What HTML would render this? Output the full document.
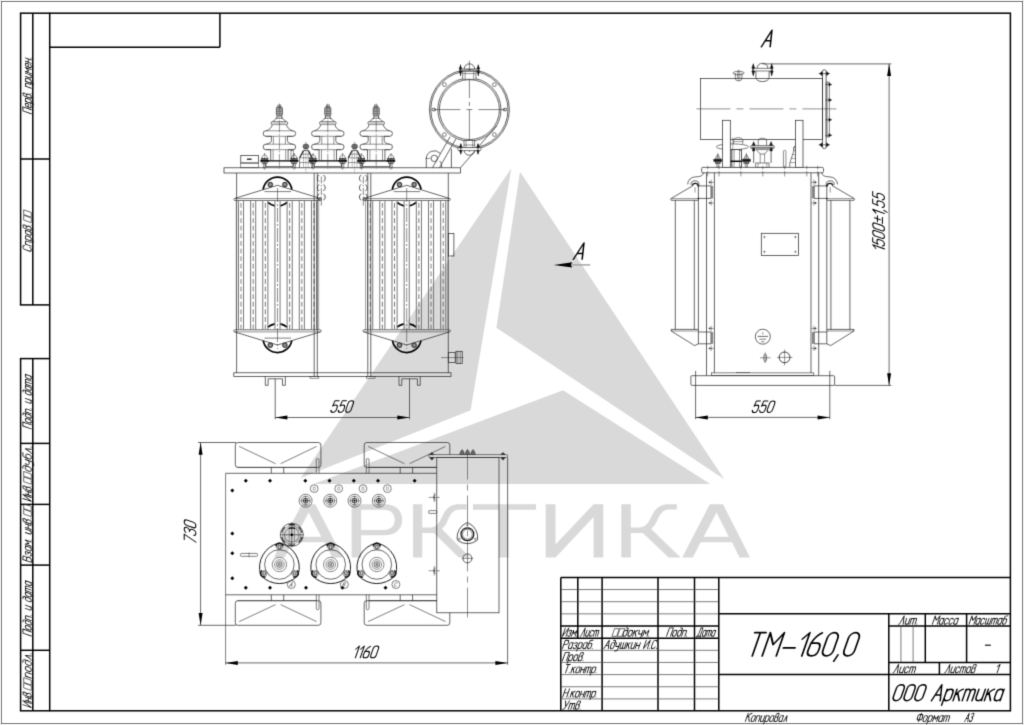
<!DOCTYPE html>
<html><head><meta charset="utf-8"><title>TM-160</title>
<style>
html,body{margin:0;padding:0;background:#ebebeb;}
body{width:1024px;height:725px;overflow:hidden;font-family:"Liberation Sans",sans-serif;}
svg{display:block;font-family:"Liberation Sans",sans-serif;}
</style></head><body>
<svg width="1024" height="725" viewBox="0 0 1024 725">
<defs><filter id="soft" x="0" y="0" width="1024" height="725" filterUnits="userSpaceOnUse" color-interpolation-filters="sRGB"><feConvolveMatrix order="3" kernelMatrix="0 1 0 1 4 1 0 1 0" divisor="8" edgeMode="duplicate" preserveAlpha="true"/></filter></defs>
<g filter="url(#soft)">
<rect x="1.5" y="1.5" width="1021" height="722" stroke="#9c9c9c" stroke-width="1" fill="#fff"/>
<path d="M511.4,168.2 L300.5,478.3 L470.6,410.3 Z" stroke="none" stroke-width="0" fill="#d9d9d9" />
<path d="M520,171.7 L724.3,479.3 L496.4,327.8 Z" stroke="none" stroke-width="0" fill="#d9d9d9" />
<path d="M563,390.3 L710.3,484 L313.5,484 Z" stroke="none" stroke-width="0" fill="#d9d9d9" />
<path d="M273.7,557.4 L301.87,504.3 H315.34 L343,557.4 H332.18 L324.68,542.2 H292.53 L284.52,557.4 Z M308.71,512.6 L321.26,536.8 H295.64 Z" stroke="none" stroke-width="0" fill="#d9d9d9" fill-rule="evenodd"/>
<path d="M351.6,557.4 V504.3 H384 C395.5,504.3 402.2,510.2 402.2,519.8 C402.2,529.4 395.5,535.3 384,535.3 H361.2 V557.4 Z M361.2,509.8 V529.9 H383.5 C390.8,529.9 394.7,526.2 394.7,519.8 C394.7,513.5 390.8,509.8 383.5,509.8 Z" stroke="none" stroke-width="0" fill="#d9d9d9" fill-rule="evenodd"/>
<path d="M413.1,504.3 L422.27,504.3 L422.27,527.4 L430.47,527.4 C436.26,527.4 439.16,523.3 442.05,516.8 C445.43,508.8 450.74,504.3 458.46,504.3 L466.66,504.3 L466.66,509.6 L459.9,509.6 C454.11,509.6 451.22,512.8 448.52,518.8 C446.39,523.8 444.46,526.8 441.86,528.9 L470.42,557.4 L458.84,557.4 L433.85,532.9 L422.27,532.9 L422.27,557.4 L413.1,557.4 Z" stroke="none" stroke-width="0" fill="#d9d9d9" />
<path d="M473,504.3 H536 V509.8 H508.6 V557.4 H498.8 V509.8 H473 Z" stroke="none" stroke-width="0" fill="#d9d9d9" />
<path d="M545.7,504.3 H555.5 V544.5 L593.6,504.3 H603.3 V557.4 H593.6 V517.1 L555.5,557.4 H545.7 Z" stroke="none" stroke-width="0" fill="#d9d9d9" />
<path d="M621.3,504.3 L630.8,504.3 L630.8,527.4 L639.3,527.4 C645.3,527.4 648.3,523.3 651.3,516.8 C654.8,508.8 660.3,504.3 668.3,504.3 L676.8,504.3 L676.8,509.6 L669.8,509.6 C663.8,509.6 660.8,512.8 658,518.8 C655.8,523.8 653.8,526.8 651.1,528.9 L680.7,557.4 L668.7,557.4 L642.8,532.9 L630.8,532.9 L630.8,557.4 L621.3,557.4 Z" stroke="none" stroke-width="0" fill="#d9d9d9" />
<path d="M682.2,557.4 L709.8,504.3 H723 L750.1,557.4 H739.5 L732.15,542.2 H700.65 L692.8,557.4 Z M716.5,512.6 L728.8,536.8 H703.7 Z" stroke="none" stroke-width="0" fill="#d9d9d9" fill-rule="evenodd"/>
<rect x="49.7" y="13.2" width="960.7" height="697.6" stroke="#000" stroke-width="1.5" fill="none"/>
<line x1="49.7" y1="47.2" x2="219.9" y2="47.2" stroke="#000" stroke-width="1.5"/>
<line x1="219.9" y1="13.2" x2="219.9" y2="47.2" stroke="#000" stroke-width="1.5"/>
<line x1="20.6" y1="13.2" x2="20.6" y2="304.9" stroke="#000" stroke-width="1.5"/>
<line x1="32.8" y1="13.2" x2="32.8" y2="304.9" stroke="#000" stroke-width="1.5"/>
<line x1="19.85" y1="13.2" x2="49.7" y2="13.2" stroke="#000" stroke-width="1.5"/>
<line x1="20.6" y1="159" x2="49.7" y2="159" stroke="#000" stroke-width="1.5"/>
<line x1="19.85" y1="304.9" x2="49.7" y2="304.9" stroke="#000" stroke-width="1.5"/>
<line x1="20.6" y1="358.6" x2="20.6" y2="710.8" stroke="#000" stroke-width="1.5"/>
<line x1="32.8" y1="358.6" x2="32.8" y2="710.8" stroke="#000" stroke-width="1.5"/>
<line x1="19.85" y1="358.6" x2="49.7" y2="358.6" stroke="#000" stroke-width="1.5"/>
<line x1="20.6" y1="443.4" x2="49.7" y2="443.4" stroke="#000" stroke-width="1.5"/>
<line x1="20.6" y1="504.4" x2="49.7" y2="504.4" stroke="#000" stroke-width="1.5"/>
<line x1="20.6" y1="565.1" x2="49.7" y2="565.1" stroke="#000" stroke-width="1.5"/>
<line x1="20.6" y1="650.3" x2="49.7" y2="650.3" stroke="#000" stroke-width="1.5"/>
<line x1="19.85" y1="710.8" x2="49.7" y2="710.8" stroke="#000" stroke-width="1.5"/>
<line x1="560.8" y1="577.4" x2="1010.4" y2="577.4" stroke="#000" stroke-width="1.5"/>
<line x1="560.8" y1="577.4" x2="560.8" y2="710.8" stroke="#000" stroke-width="1.5"/>
<line x1="602.1" y1="577.4" x2="602.1" y2="710.8" stroke="#000" stroke-width="1.5"/>
<line x1="658" y1="577.4" x2="658" y2="710.8" stroke="#000" stroke-width="1.5"/>
<line x1="694.5" y1="577.4" x2="694.5" y2="710.8" stroke="#000" stroke-width="1.5"/>
<line x1="718.8" y1="577.4" x2="718.8" y2="710.8" stroke="#000" stroke-width="1.5"/>
<line x1="577.8" y1="577.4" x2="577.8" y2="638.15" stroke="#000" stroke-width="1.5"/>
<line x1="560.8" y1="589.55" x2="718.8" y2="589.55" stroke="#444" stroke-width="0.7"/>
<line x1="560.8" y1="601.7" x2="718.8" y2="601.7" stroke="#444" stroke-width="0.7"/>
<line x1="560.8" y1="613.85" x2="718.8" y2="613.85" stroke="#444" stroke-width="0.7"/>
<line x1="560.8" y1="626" x2="718.8" y2="626" stroke="#000" stroke-width="1.5"/>
<line x1="560.8" y1="638.15" x2="718.8" y2="638.15" stroke="#000" stroke-width="1.5"/>
<line x1="560.8" y1="650.3" x2="718.8" y2="650.3" stroke="#444" stroke-width="0.7"/>
<line x1="560.8" y1="662.45" x2="718.8" y2="662.45" stroke="#444" stroke-width="0.7"/>
<line x1="560.8" y1="674.6" x2="718.8" y2="674.6" stroke="#444" stroke-width="0.7"/>
<line x1="560.8" y1="686.75" x2="718.8" y2="686.75" stroke="#444" stroke-width="0.7"/>
<line x1="560.8" y1="698.9" x2="718.8" y2="698.9" stroke="#444" stroke-width="0.7"/>
<line x1="718.8" y1="613.85" x2="1010.4" y2="613.85" stroke="#000" stroke-width="1.5"/>
<line x1="718.8" y1="674.6" x2="1010.4" y2="674.6" stroke="#000" stroke-width="1.5"/>
<line x1="888.8" y1="613.85" x2="888.8" y2="710.8" stroke="#000" stroke-width="1.5"/>
<line x1="888.8" y1="626" x2="1010.4" y2="626" stroke="#000" stroke-width="1.5"/>
<line x1="888.8" y1="662.45" x2="1010.4" y2="662.45" stroke="#000" stroke-width="1.5"/>
<line x1="925.3" y1="613.85" x2="925.3" y2="662.45" stroke="#000" stroke-width="1.5"/>
<line x1="966.6" y1="613.85" x2="966.6" y2="662.45" stroke="#000" stroke-width="1.5"/>
<line x1="900.95" y1="626" x2="900.95" y2="662.45" stroke="#444" stroke-width="0.7"/>
<line x1="913.1" y1="626" x2="913.1" y2="662.45" stroke="#444" stroke-width="0.7"/>
<line x1="939.4" y1="662.45" x2="939.4" y2="674.6" stroke="#000" stroke-width="1.5"/>
<g transform="translate(746.6,655.9) rotate(0)"><g transform="matrix(1.6571,0,0.5800,-1.6571,0,0)" fill="none" stroke="#000" stroke-width="1.06" stroke-linecap="round" stroke-linejoin="round"><path transform="translate(0,0)" d="M0,14 H6.8 M3.4,14 V0"/><path transform="translate(9.4,0)" d="M0,0 V14 L4.25,6.8 L8.5,14 V0"/><path transform="translate(20.5,0)" d="M0,4.8 H7"/><path transform="translate(30.1,0)" d="M0,10.2 L3.2,14 V0"/><path transform="translate(35.9,0)" d="M4.9,13.9 C2.6,12.6 0.9,10 0.3,7.6 L0,3.2 C0,1.2 1.3,0 3.2,0 C5.1,0 6.4,1.2 6.4,3.2 V4.8 C6.4,6.6 5.3,7.7 3.8,7.7 H0.5"/><path transform="translate(44.9,0)" d="M0,3.2 V10.8 A3.2,3.2 0 0 0 6.4,10.8 V3.2 A3.2,3.2 0 0 0 0,3.2 Z"/><path transform="translate(53.9,0)" d="M1.0,0.6 L-0.2,-3.2"/><path transform="translate(57.7,0)" d="M0,3.2 V10.8 A3.2,3.2 0 0 0 6.4,10.8 V3.2 A3.2,3.2 0 0 0 0,3.2 Z"/></g></g>
<g transform="translate(892,700.7) rotate(0)"><g transform="matrix(1.1429,0,0.4000,-1.1429,0,0)" fill="none" stroke="#000" stroke-width="1.3" stroke-linecap="round" stroke-linejoin="round"><path transform="translate(0,0)" d="M0,3.45 V10.55 A3.45,3.45 0 0 0 6.9,10.55 V3.45 A3.45,3.45 0 0 0 0,3.45 Z"/><path transform="translate(9.5,0)" d="M0,3.45 V10.55 A3.45,3.45 0 0 0 6.9,10.55 V3.45 A3.45,3.45 0 0 0 0,3.45 Z"/><path transform="translate(19,0)" d="M0,3.45 V10.55 A3.45,3.45 0 0 0 6.9,10.55 V3.45 A3.45,3.45 0 0 0 0,3.45 Z"/><path transform="translate(34.5,0)" d="M0,0 L4.2,14 L7.7,0 M1.5,5 H6.45"/><path transform="translate(44.8,0)" d="M0,10 V-4 M0,7 C0,8.9,1.26,10,3,10 C4.74,10,6,8.9,6,7 V3 C6,1.1,4.74,0,3,0 C1.26,0,0,1.1,0,3"/><path transform="translate(53.4,0)" d="M0,10 V0 M5.4,10 C3.15,9.6,1.35,7,0,4.6 M1.8,6.6 L5.4,0"/><path transform="translate(61.4,0)" d="M0,0 V10 M0,7.2 C0,9 0.9,10 2.15,10 C3.4,10 4.3,9 4.3,7.2 V0 M4.3,7.2 C4.3,9 5.2,10 6.45,10 C7.7,10 8.6,9 8.6,7.2 V0"/><path transform="translate(72.6,0)" d="M0,10 V3 C0,1.1,1.17,0,2.8,0 C4.43,0,5.6,1.1,5.6,3 M5.6,10 V0"/><path transform="translate(80.8,0)" d="M0,10 V0 M5.4,10 C3.15,9.6,1.35,7,0,4.6 M1.8,6.6 L5.4,0"/><path transform="translate(88.8,0)" d="M5.8,10 V0 M5.8,3 C5.8,1.1,4.58,0,2.9,0 C1.22,0,0,1.1,0,3 V7 C0,8.9,1.22,10,2.9,10 C4.58,10,5.8,8.9,5.8,7"/></g></g>
<g transform="translate(562.4,636.3) rotate(0)"><g transform="matrix(0.5143,0,0.2100,-0.6000,0,0)" fill="none" stroke="#111" stroke-width="1.58" stroke-linecap="round" stroke-linejoin="round"><path transform="translate(0,0)" d="M0,14 V0 L7,14 V0"/><path transform="translate(9.6,0)" d="M0.2,8.3 C0.7,9.4 1.6,10 2.7,10 C4.2,10 5.2,9 5.2,7.6 C5.2,6.2 4.2,5.4 2.4,5.4 C4.4,5.4 5.4,4.4 5.4,2.8 C5.4,1.1 4.3,0 2.7,0 C1.4,0 0.5,0.7 0,1.9"/><path transform="translate(17.6,0)" d="M0,0 V10 L3.5,4 L7,10 V0"/><path transform="translate(27.2,0)" d="M0.4,0.2 V0.5"/></g></g>
<g transform="translate(580.2,636.3) rotate(0)"><g transform="matrix(0.4886,0,0.2100,-0.6000,0,0)" fill="none" stroke="#111" stroke-width="1.63" stroke-linecap="round" stroke-linejoin="round"><path transform="translate(0,0)" d="M0,0 C0.9,0.1 1.4,0.8 1.7,2.2 L4.4,14 L7.4,0"/><path transform="translate(10,0)" d="M0,10 V3 C0,1.1,1.17,0,2.8,0 C4.43,0,5.6,1.1,5.6,3 M5.6,10 V0"/><path transform="translate(18.2,0)" d="M5.6,7.8 C5.2,9.2 4.3,10 2.9,10 C1.2,10 0,8.9 0,7 V3 C0,1.1 1.2,0 2.9,0 C4.3,0 5.2,0.8 5.6,2.2"/><path transform="translate(26.4,0)" d="M0,0 V10 M0,7.2 C0,9 0.9,10 2.15,10 C3.4,10 4.3,9 4.3,7.2 V0 M4.3,7.2 C4.3,9 5.2,10 6.45,10 C7.7,10 8.6,9 8.6,7.2 V0"/></g></g>
<g transform="translate(612,636.3) rotate(0)"><g transform="matrix(0.5857,0,0.2050,-0.5857,0,0)" fill="none" stroke="#333" stroke-width="1.13" stroke-linecap="round" stroke-linejoin="round"><path transform="translate(0,0)" d="M0.5,0 H8 V13 H0.5 Z M9.8,0 H17.3 V13 H9.8 Z"/></g></g>
<g transform="translate(622.3,636.3) rotate(0)"><g transform="matrix(0.6124,0,0.2100,-0.6000,0,0)" fill="none" stroke="#111" stroke-width="1.45" stroke-linecap="round" stroke-linejoin="round"><path transform="translate(0,0)" d="M5.8,7 C5.8,8.9 4.6,10 2.9,10 C1.2,10 0,8.9 0,7 V3 C0,1.1 1.2,0 2.9,0 C4.6,0 5.8,1.1 5.8,3 V10.4 C5.8,12.7 4.6,14 2.8,14 H1.4"/><path transform="translate(8.4,0)" d="M0,2.9 V7.1 A2.9,2.9 0 0 0 5.8,7.1 V2.9 A2.9,2.9 0 0 0 0,2.9 Z"/><path transform="translate(16.8,0)" d="M0,10 V0 M5.4,10 C3.15,9.6,1.35,7,0,4.6 M1.8,6.6 L5.4,0"/><path transform="translate(24.8,0)" d="M0,10 V6.2 C0,4.4 1.2,3.4 2.9,3.4 C4.6,3.4 5.8,4.4 5.8,6.2 M5.8,10 V-1 C5.8,-2.9 4.6,-4 2.9,-4 H1.5"/><path transform="translate(33.2,0)" d="M0,0 V10 L3.5,4 L7,10 V0"/><path transform="translate(42.8,0)" d="M0.4,0.2 V0.5"/></g></g>
<g transform="translate(666.5,636.3) rotate(0)"><g transform="matrix(0.5702,0,0.2100,-0.6000,0,0)" fill="none" stroke="#111" stroke-width="1.5" stroke-linecap="round" stroke-linejoin="round"><path transform="translate(0,0)" d="M0,0 V14 H7 V0"/><path transform="translate(9.6,0)" d="M0,2.9 V7.1 A2.9,2.9 0 0 0 5.8,7.1 V2.9 A2.9,2.9 0 0 0 0,2.9 Z"/><path transform="translate(18,0)" d="M5.8,7 C5.8,8.9 4.6,10 2.9,10 C1.2,10 0,8.9 0,7 V3 C0,1.1 1.2,0 2.9,0 C4.6,0 5.8,1.1 5.8,3 V10.4 C5.8,12.7 4.6,14 2.8,14 H1.4"/><path transform="translate(26.4,0)" d="M0,0 V10 M0,7 C0,8.9 1.2,10 2.9,10 C4.6,10 5.8,8.9 5.8,7 V0"/><path transform="translate(34.8,0)" d="M0.4,0.2 V0.5"/></g></g>
<g transform="translate(696.8,636.3) rotate(0)"><g transform="matrix(0.4722,0,0.2100,-0.6000,0,0)" fill="none" stroke="#111" stroke-width="1.65" stroke-linecap="round" stroke-linejoin="round"><path transform="translate(0,0)" d="M0,-2 V0 H8 V-2 M1,0 C1.8,2 2.4,5 2.6,9 V14 H7 V0"/><path transform="translate(10.6,0)" d="M5.8,10 V0 M5.8,3 C5.8,1.1,4.58,0,2.9,0 C1.22,0,0,1.1,0,3 V7 C0,8.9,1.22,10,2.9,10 C4.58,10,5.8,8.9,5.8,7"/><path transform="translate(19,0)" d="M0,0 V10 M0,7.2 C0,9 0.9,10 2.15,10 C3.4,10 4.3,9 4.3,7.2 V0 M4.3,7.2 C4.3,9 5.2,10 6.45,10 C7.7,10 8.6,9 8.6,7.2 V0"/><path transform="translate(30.2,0)" d="M5.8,10 V0 M5.8,3 C5.8,1.1,4.58,0,2.9,0 C1.22,0,0,1.1,0,3 V7 C0,8.9,1.22,10,2.9,10 C4.58,10,5.8,8.9,5.8,7"/></g></g>
<g transform="translate(562.4,648.6) rotate(0)"><g transform="matrix(0.5747,0,0.2100,-0.6000,0,0)" fill="none" stroke="#111" stroke-width="1.5" stroke-linecap="round" stroke-linejoin="round"><path transform="translate(0,0)" d="M0,0 V14 H3.6 C5.7,14 7,12.5 7,10.3 C7,8.1 5.7,6.6 3.6,6.6 H0"/><path transform="translate(9.6,0)" d="M5.8,10 V0 M5.8,3 C5.8,1.1,4.58,0,2.9,0 C1.22,0,0,1.1,0,3 V7 C0,8.9,1.22,10,2.9,10 C4.58,10,5.8,8.9,5.8,7"/><path transform="translate(18,0)" d="M0.2,8.3 C0.7,9.4 1.6,10 2.7,10 C4.2,10 5.2,9 5.2,7.6 C5.2,6.2 4.2,5.4 2.4,5.4 C4.4,5.4 5.4,4.4 5.4,2.8 C5.4,1.1 4.3,0 2.7,0 C1.4,0 0.5,0.7 0,1.9"/><path transform="translate(26,0)" d="M0,10 V-4 M0,7 C0,8.9,1.26,10,3,10 C4.74,10,6,8.9,6,7 V3 C6,1.1,4.74,0,3,0 C1.26,0,0,1.1,0,3"/><path transform="translate(34.6,0)" d="M5.8,10 V0 M5.8,3 C5.8,1.1,4.58,0,2.9,0 C1.22,0,0,1.1,0,3 V7 C0,8.9,1.22,10,2.9,10 C4.58,10,5.8,8.9,5.8,7"/><path transform="translate(43,0)" d="M5.4,14 H2.9 C1.2,14 0,12.6 0,10.6 V3 C0,1.1 1.2,0 2.9,0 C4.6,0 5.8,1.1 5.8,3 V6.2 C5.8,8.1 4.6,9.2 2.9,9.2 C1.2,9.2 0,8.1 0,6.2"/><path transform="translate(51.4,0)" d="M0.4,0.2 V0.5"/></g></g>
<g transform="translate(562.4,660.8) rotate(0)"><g transform="matrix(0.5810,0,0.2100,-0.6000,0,0)" fill="none" stroke="#111" stroke-width="1.49" stroke-linecap="round" stroke-linejoin="round"><path transform="translate(0,0)" d="M0,0 V14 H7 V0"/><path transform="translate(9.6,0)" d="M0,10 V-4 M0,7 C0,8.9,1.26,10,3,10 C4.74,10,6,8.9,6,7 V3 C6,1.1,4.74,0,3,0 C1.26,0,0,1.1,0,3"/><path transform="translate(18.2,0)" d="M0,2.9 V7.1 A2.9,2.9 0 0 0 5.8,7.1 V2.9 A2.9,2.9 0 0 0 0,2.9 Z"/><path transform="translate(26.6,0)" d="M0,0 V10.6 C0,12.7 1.1,14 2.7,14 C4.3,14 5.3,12.9 5.3,11.1 C5.3,9.2 4.2,8.1 2.4,7.8 C4.6,7.6 5.8,6.2 5.8,4 V3 C5.8,1.1 4.6,0 2.9,0 C1.2,0 0,1.1 0,3"/><path transform="translate(35,0)" d="M0.4,0.2 V0.5"/></g></g>
<g transform="translate(563.6,672.9) rotate(0)"><g transform="matrix(0.5601,0,0.2100,-0.6000,0,0)" fill="none" stroke="#111" stroke-width="1.52" stroke-linecap="round" stroke-linejoin="round"><path transform="translate(0,0)" d="M0,14 H6.8 M3.4,14 V0"/><path transform="translate(9.4,0)" d="M0.4,0.2 V0.5"/><path transform="translate(12.8,0)" d="M0,10 V0 M5.4,10 C3.15,9.6,1.35,7,0,4.6 M1.8,6.6 L5.4,0"/><path transform="translate(20.8,0)" d="M0,2.9 V7.1 A2.9,2.9 0 0 0 5.8,7.1 V2.9 A2.9,2.9 0 0 0 0,2.9 Z"/><path transform="translate(29.2,0)" d="M0,0 V10 M0,5.2 H5.8 M5.8,10 V0"/><path transform="translate(37.6,0)" d="M0,0 V10 M0,7.2 C0,9 0.9,10 2.15,10 C3.4,10 4.3,9 4.3,7.2 V0 M4.3,7.2 C4.3,9 5.2,10 6.45,10 C7.7,10 8.6,9 8.6,7.2 V0"/><path transform="translate(48.8,0)" d="M0,10 V-4 M0,7 C0,8.9,1.26,10,3,10 C4.74,10,6,8.9,6,7 V3 C6,1.1,4.74,0,3,0 C1.26,0,0,1.1,0,3"/><path transform="translate(57.4,0)" d="M0.4,0.2 V0.5"/></g></g>
<g transform="translate(562.6,697.2) rotate(0)"><g transform="matrix(0.5753,0,0.2100,-0.6000,0,0)" fill="none" stroke="#111" stroke-width="1.5" stroke-linecap="round" stroke-linejoin="round"><path transform="translate(0,0)" d="M0,0 V14 M0,7.2 H7 M7,14 V0"/><path transform="translate(9.6,0)" d="M0.4,0.2 V0.5"/><path transform="translate(13,0)" d="M0,10 V0 M5.4,10 C3.15,9.6,1.35,7,0,4.6 M1.8,6.6 L5.4,0"/><path transform="translate(21,0)" d="M0,2.9 V7.1 A2.9,2.9 0 0 0 5.8,7.1 V2.9 A2.9,2.9 0 0 0 0,2.9 Z"/><path transform="translate(29.4,0)" d="M0,0 V10 M0,5.2 H5.8 M5.8,10 V0"/><path transform="translate(37.8,0)" d="M0,0 V10 M0,7.2 C0,9 0.9,10 2.15,10 C3.4,10 4.3,9 4.3,7.2 V0 M4.3,7.2 C4.3,9 5.2,10 6.45,10 C7.7,10 8.6,9 8.6,7.2 V0"/><path transform="translate(49,0)" d="M0,10 V-4 M0,7 C0,8.9,1.26,10,3,10 C4.74,10,6,8.9,6,7 V3 C6,1.1,4.74,0,3,0 C1.26,0,0,1.1,0,3"/><path transform="translate(57.6,0)" d="M0.4,0.2 V0.5"/></g></g>
<g transform="translate(562.6,709.3) rotate(0)"><g transform="matrix(0.5867,0,0.2100,-0.6000,0,0)" fill="none" stroke="#111" stroke-width="1.48" stroke-linecap="round" stroke-linejoin="round"><path transform="translate(0,0)" d="M0,14 L3.6,5 M7,14 L2.6,1.2 C2.2,0.3 1.5,0 0.4,0"/><path transform="translate(9.6,0)" d="M0,0 V10 M0,7.2 C0,9 0.9,10 2.15,10 C3.4,10 4.3,9 4.3,7.2 V0 M4.3,7.2 C4.3,9 5.2,10 6.45,10 C7.7,10 8.6,9 8.6,7.2 V0"/><path transform="translate(20.8,0)" d="M0,0 V10.6 C0,12.7 1.1,14 2.7,14 C4.3,14 5.3,12.9 5.3,11.1 C5.3,9.2 4.2,8.1 2.4,7.8 C4.6,7.6 5.8,6.2 5.8,4 V3 C5.8,1.1 4.6,0 2.9,0 C1.2,0 0,1.1 0,3"/><path transform="translate(29.2,0)" d="M0.4,0.2 V0.5"/></g></g>
<g transform="translate(603.9,648.6) rotate(0)"><g transform="matrix(0.5747,0,0.2100,-0.6000,0,0)" fill="none" stroke="#111" stroke-width="1.5" stroke-linecap="round" stroke-linejoin="round"><path transform="translate(0,0)" d="M0,0 L4.2,14 L7.7,0 M1.5,5 H6.45"/><path transform="translate(10.3,0)" d="M5.8,7 C5.8,8.9 4.6,10 2.9,10 C1.2,10 0,8.9 0,7 V3 C0,1.1 1.2,0 2.9,0 C4.6,0 5.8,1.1 5.8,3 V10.4 C5.8,12.7 4.6,14 2.8,14 H1.4"/><path transform="translate(18.7,0)" d="M0,10 V6.2 C0,4.4 1.2,3.4 2.9,3.4 C4.6,3.4 5.8,4.4 5.8,6.2 M5.8,10 V-1 C5.8,-2.9 4.6,-4 2.9,-4 H1.5"/><path transform="translate(27.1,0)" d="M0,10 V3 C0,1.1 0.9,0 2.1,0 C3.3,0 4.2,1.1 4.2,3 V10 M4.2,3 C4.2,1.1 5.1,0 6.3,0 C7.5,0 8.4,1.1 8.4,3 M8.4,10 V0"/><path transform="translate(38.1,0)" d="M0,10 V0 M5.4,10 C3.15,9.6,1.35,7,0,4.6 M1.8,6.6 L5.4,0"/><path transform="translate(46.1,0)" d="M0,10 V3 C0,1.1,1.17,0,2.8,0 C4.43,0,5.6,1.1,5.6,3 M5.6,10 V0"/><path transform="translate(54.3,0)" d="M0,0 V10 M0,5.2 H5.8 M5.8,10 V0"/><path transform="translate(68.7,0)" d="M0,14 V0 L7,14 V0"/><path transform="translate(78.3,0)" d="M0.4,0.2 V0.5"/><path transform="translate(81.7,0)" d="M6.6,11.2 C6.3,12.9 5.1,14 3.4,14 C1.4,14 0,12.6 0,10.4 V3.6 C0,1.4 1.4,0 3.4,0 C5.1,0 6.3,1.1 6.6,2.8"/><path transform="translate(90.9,0)" d="M0.4,0.2 V0.5"/></g></g>
<g transform="translate(898.6,624.3) rotate(0)"><g transform="matrix(0.6093,0,0.2100,-0.6000,0,0)" fill="none" stroke="#111" stroke-width="1.46" stroke-linecap="round" stroke-linejoin="round"><path transform="translate(0,0)" d="M0,0 C0.9,0.1 1.4,0.8 1.7,2.2 L4.4,14 L7.4,0"/><path transform="translate(10,0)" d="M0,10 V3 C0,1.1,1.17,0,2.8,0 C4.43,0,5.6,1.1,5.6,3 M5.6,10 V0"/><path transform="translate(18.2,0)" d="M0,0 V10 M0,7.2 C0,9 0.9,10 2.15,10 C3.4,10 4.3,9 4.3,7.2 V0 M4.3,7.2 C4.3,9 5.2,10 6.45,10 C7.7,10 8.6,9 8.6,7.2 V0"/><path transform="translate(29.4,0)" d="M0.4,0.2 V0.5"/></g></g>
<g transform="translate(932.3,624.3) rotate(0)"><g transform="matrix(0.5803,0,0.2100,-0.6000,0,0)" fill="none" stroke="#111" stroke-width="1.49" stroke-linecap="round" stroke-linejoin="round"><path transform="translate(0,0)" d="M0,0 V14 L4.25,6.8 L8.5,14 V0"/><path transform="translate(11.1,0)" d="M5.8,10 V0 M5.8,3 C5.8,1.1,4.58,0,2.9,0 C1.22,0,0,1.1,0,3 V7 C0,8.9,1.22,10,2.9,10 C4.58,10,5.8,8.9,5.8,7"/><path transform="translate(19.5,0)" d="M5.6,7.8 C5.2,9.2 4.3,10 2.9,10 C1.2,10 0,8.9 0,7 V3 C0,1.1 1.2,0 2.9,0 C4.3,0 5.2,0.8 5.6,2.2"/><path transform="translate(27.7,0)" d="M5.6,7.8 C5.2,9.2 4.3,10 2.9,10 C1.2,10 0,8.9 0,7 V3 C0,1.1 1.2,0 2.9,0 C4.3,0 5.2,0.8 5.6,2.2"/><path transform="translate(35.9,0)" d="M5.8,10 V0 M5.8,3 C5.8,1.1,4.58,0,2.9,0 C1.22,0,0,1.1,0,3 V7 C0,8.9,1.22,10,2.9,10 C4.58,10,5.8,8.9,5.8,7"/></g></g>
<g transform="translate(969,624.3) rotate(0)"><g transform="matrix(0.5657,0,0.2100,-0.6000,0,0)" fill="none" stroke="#111" stroke-width="1.51" stroke-linecap="round" stroke-linejoin="round"><path transform="translate(0,0)" d="M0,0 V14 L4.25,6.8 L8.5,14 V0"/><path transform="translate(11.1,0)" d="M5.8,10 V0 M5.8,3 C5.8,1.1,4.58,0,2.9,0 C1.22,0,0,1.1,0,3 V7 C0,8.9,1.22,10,2.9,10 C4.58,10,5.8,8.9,5.8,7"/><path transform="translate(19.5,0)" d="M5.6,7.8 C5.2,9.2 4.3,10 2.9,10 C1.2,10 0,8.9 0,7 V3 C0,1.1 1.2,0 2.9,0 C4.3,0 5.2,0.8 5.6,2.2"/><path transform="translate(27.7,0)" d="M0,10 V3 C0,1.1 0.9,0 2.1,0 C3.3,0 4.2,1.1 4.2,3 V10 M4.2,3 C4.2,1.1 5.1,0 6.3,0 C7.5,0 8.4,1.1 8.4,3 M8.4,10 V0"/><path transform="translate(38.7,0)" d="M0,0 V10 M0,7.2 C0,9 0.9,10 2.15,10 C3.4,10 4.3,9 4.3,7.2 V0 M4.3,7.2 C4.3,9 5.2,10 6.45,10 C7.7,10 8.6,9 8.6,7.2 V0"/><path transform="translate(49.9,0)" d="M5.8,10 V0 M5.8,3 C5.8,1.1,4.58,0,2.9,0 C1.22,0,0,1.1,0,3 V7 C0,8.9,1.22,10,2.9,10 C4.58,10,5.8,8.9,5.8,7"/><path transform="translate(58.3,0)" d="M5.4,14 H2.9 C1.2,14 0,12.6 0,10.6 V3 C0,1.1 1.2,0 2.9,0 C4.6,0 5.8,1.1 5.8,3 V6.2 C5.8,8.1 4.6,9.2 2.9,9.2 C1.2,9.2 0,8.1 0,6.2"/></g></g>
<g transform="translate(893,672.8) rotate(0)"><g transform="matrix(0.6029,0,0.2100,-0.6000,0,0)" fill="none" stroke="#111" stroke-width="1.46" stroke-linecap="round" stroke-linejoin="round"><path transform="translate(0,0)" d="M0,0 C0.9,0.1 1.4,0.8 1.7,2.2 L4.4,14 L7.4,0"/><path transform="translate(10,0)" d="M0,10 V3 C0,1.1,1.17,0,2.8,0 C4.43,0,5.6,1.1,5.6,3 M5.6,10 V0"/><path transform="translate(18.2,0)" d="M5.6,7.8 C5.2,9.2 4.3,10 2.9,10 C1.2,10 0,8.9 0,7 V3 C0,1.1 1.2,0 2.9,0 C4.3,0 5.2,0.8 5.6,2.2"/><path transform="translate(26.4,0)" d="M0,0 V10 M0,7.2 C0,9 0.9,10 2.15,10 C3.4,10 4.3,9 4.3,7.2 V0 M4.3,7.2 C4.3,9 5.2,10 6.45,10 C7.7,10 8.6,9 8.6,7.2 V0"/></g></g>
<g transform="translate(944.6,672.8) rotate(0)"><g transform="matrix(0.5687,0,0.2100,-0.6000,0,0)" fill="none" stroke="#111" stroke-width="1.51" stroke-linecap="round" stroke-linejoin="round"><path transform="translate(0,0)" d="M0,0 C0.9,0.1 1.4,0.8 1.7,2.2 L4.4,14 L7.4,0"/><path transform="translate(10,0)" d="M0,10 V3 C0,1.1,1.17,0,2.8,0 C4.43,0,5.6,1.1,5.6,3 M5.6,10 V0"/><path transform="translate(18.2,0)" d="M5.6,7.8 C5.2,9.2 4.3,10 2.9,10 C1.2,10 0,8.9 0,7 V3 C0,1.1 1.2,0 2.9,0 C4.3,0 5.2,0.8 5.6,2.2"/><path transform="translate(26.4,0)" d="M0,0 V10 M0,7.2 C0,9 0.9,10 2.15,10 C3.4,10 4.3,9 4.3,7.2 V0 M4.3,7.2 C4.3,9 5.2,10 6.45,10 C7.7,10 8.6,9 8.6,7.2 V0"/><path transform="translate(37.6,0)" d="M0,2.9 V7.1 A2.9,2.9 0 0 0 5.8,7.1 V2.9 A2.9,2.9 0 0 0 0,2.9 Z"/><path transform="translate(46,0)" d="M0,0 V10.6 C0,12.7 1.1,14 2.7,14 C4.3,14 5.3,12.9 5.3,11.1 C5.3,9.2 4.2,8.1 2.4,7.8 C4.6,7.6 5.8,6.2 5.8,4 V3 C5.8,1.1 4.6,0 2.9,0 C1.2,0 0,1.1 0,3"/></g></g>
<g transform="translate(995.2,672.8) rotate(0)"><g transform="matrix(0.6000,0,0.2100,-0.6000,0,0)" fill="none" stroke="#111" stroke-width="1.47" stroke-linecap="round" stroke-linejoin="round"><path transform="translate(0,0)" d="M0,10.2 L3.2,14 V0"/></g></g>
<line x1="985" y1="645.2" x2="990.8" y2="645.2" stroke="#111" stroke-width="1.2"/>
<g transform="translate(745.3,721.6) rotate(0)"><g transform="matrix(0.5512,0,0.2100,-0.6000,0,0)" fill="none" stroke="#111" stroke-width="1.53" stroke-linecap="round" stroke-linejoin="round"><path transform="translate(0,0)" d="M0,0 V14 M7,14 C4.5,13.4 1.8,10 0,6.4 M2.6,9.4 L7,0"/><path transform="translate(9.6,0)" d="M0,2.9 V7.1 A2.9,2.9 0 0 0 5.8,7.1 V2.9 A2.9,2.9 0 0 0 0,2.9 Z"/><path transform="translate(18,0)" d="M0,0 V10 M0,7 C0,8.9 1.2,10 2.9,10 C4.6,10 5.8,8.9 5.8,7 V0"/><path transform="translate(26.4,0)" d="M0,10 V3 C0,1.1,1.17,0,2.8,0 C4.43,0,5.6,1.1,5.6,3 M5.6,10 V0"/><path transform="translate(34.6,0)" d="M0,10 V-4 M0,7 C0,8.9,1.26,10,3,10 C4.74,10,6,8.9,6,7 V3 C6,1.1,4.74,0,3,0 C1.26,0,0,1.1,0,3"/><path transform="translate(43.2,0)" d="M0,2.9 V7.1 A2.9,2.9 0 0 0 5.8,7.1 V2.9 A2.9,2.9 0 0 0 0,2.9 Z"/><path transform="translate(51.6,0)" d="M0,0 V10.6 C0,12.7 1.1,14 2.7,14 C4.3,14 5.3,12.9 5.3,11.1 C5.3,9.2 4.2,8.1 2.4,7.8 C4.6,7.6 5.8,6.2 5.8,4 V3 C5.8,1.1 4.6,0 2.9,0 C1.2,0 0,1.1 0,3"/><path transform="translate(60,0)" d="M5.8,10 V0 M5.8,3 C5.8,1.1,4.58,0,2.9,0 C1.22,0,0,1.1,0,3 V7 C0,8.9,1.22,10,2.9,10 C4.58,10,5.8,8.9,5.8,7"/><path transform="translate(68.4,0)" d="M0,0 C0.9,0.1 1.3,0.7 1.6,1.9 L3.6,10 L5.8,0"/></g></g>
<g transform="translate(916,721.6) rotate(0)"><g transform="matrix(0.5879,0,0.2100,-0.6000,0,0)" fill="none" stroke="#111" stroke-width="1.48" stroke-linecap="round" stroke-linejoin="round"><path transform="translate(0,0)" d="M4.2,0 V14 M4.2,12.2 C1.7,12.2 0,10.6 0,8.2 V6.6 C0,4.2 1.7,2.6 4.2,2.6 C6.7,2.6 8.4,4.2 8.4,6.6 V8.2 C8.4,10.6 6.7,12.2 4.2,12.2"/><path transform="translate(11,0)" d="M0,2.9 V7.1 A2.9,2.9 0 0 0 5.8,7.1 V2.9 A2.9,2.9 0 0 0 0,2.9 Z"/><path transform="translate(19.4,0)" d="M0,10 V-4 M0,7 C0,8.9,1.26,10,3,10 C4.74,10,6,8.9,6,7 V3 C6,1.1,4.74,0,3,0 C1.26,0,0,1.1,0,3"/><path transform="translate(28,0)" d="M0,0 V10 L3.5,4 L7,10 V0"/><path transform="translate(37.6,0)" d="M5.8,10 V0 M5.8,3 C5.8,1.1,4.58,0,2.9,0 C1.22,0,0,1.1,0,3 V7 C0,8.9,1.22,10,2.9,10 C4.58,10,5.8,8.9,5.8,7"/><path transform="translate(46,0)" d="M0,0 V10 M0,7.2 C0,9 0.9,10 2.15,10 C3.4,10 4.3,9 4.3,7.2 V0 M4.3,7.2 C4.3,9 5.2,10 6.45,10 C7.7,10 8.6,9 8.6,7.2 V0"/></g></g>
<g transform="translate(964.5,721.6) rotate(0)"><g transform="matrix(0.4228,0,0.2100,-0.6000,0,0)" fill="none" stroke="#111" stroke-width="1.75" stroke-linecap="round" stroke-linejoin="round"><path transform="translate(0,0)" d="M0,0 L4.2,14 L7.7,0 M1.5,5 H6.45"/><path transform="translate(10.3,0)" d="M0.3,12 C1,13.5 2,14 3.2,14 C5.1,14 6.4,12.8 6.4,11 C6.4,9 5.1,7.6 2.8,7.6 C5.2,7.6 6.4,6 6.4,4 V3.3 C6.4,1.3 5.1,0 3.2,0 C1.4,0 0.3,1 0,2.6"/></g></g>
<g transform="translate(31.3,113.8) rotate(-90)"><g transform="matrix(0.5764,0,0.2100,-0.6000,0,0)" fill="none" stroke="#111" stroke-width="1.5" stroke-linecap="round" stroke-linejoin="round"><path transform="translate(0,0)" d="M0,0 V14 H7 V0"/><path transform="translate(9.6,0)" d="M0,5.2 H5.8 V7 C5.8,8.9 4.6,10 2.9,10 C1.2,10 0,8.9 0,7 V3 C0,1.1 1.2,0 2.9,0 C4.3,0 5.3,0.7 5.7,2"/><path transform="translate(18,0)" d="M0,10 V-4 M0,7 C0,8.9,1.26,10,3,10 C4.74,10,6,8.9,6,7 V3 C6,1.1,4.74,0,3,0 C1.26,0,0,1.1,0,3"/><path transform="translate(26.6,0)" d="M0,0 V10.6 C0,12.7 1.1,14 2.7,14 C4.3,14 5.3,12.9 5.3,11.1 C5.3,9.2 4.2,8.1 2.4,7.8 C4.6,7.6 5.8,6.2 5.8,4 V3 C5.8,1.1 4.6,0 2.9,0 C1.2,0 0,1.1 0,3"/><path transform="translate(35,0)" d="M0.4,0.2 V0.5"/><path transform="translate(44.4,0)" d="M0,0 V10 M0,7 C0,8.9 1.2,10 2.9,10 C4.6,10 5.8,8.9 5.8,7 V0"/><path transform="translate(52.8,0)" d="M0,10 V-4 M0,7 C0,8.9,1.26,10,3,10 C4.74,10,6,8.9,6,7 V3 C6,1.1,4.74,0,3,0 C1.26,0,0,1.1,0,3"/><path transform="translate(61.4,0)" d="M0,10 V3 C0,1.1,1.17,0,2.8,0 C4.43,0,5.6,1.1,5.6,3 M5.6,10 V0"/><path transform="translate(69.6,0)" d="M0,0 V10 L3.5,4 L7,10 V0"/><path transform="translate(79.2,0)" d="M0,5.2 H5.8 V7 C5.8,8.9 4.6,10 2.9,10 C1.2,10 0,8.9 0,7 V3 C0,1.1 1.2,0 2.9,0 C4.3,0 5.3,0.7 5.7,2"/><path transform="translate(87.6,0)" d="M0,0 V10 M0,5.2 H5.8 M5.8,10 V0"/><path transform="translate(96,0)" d="M0.4,0.2 V0.5"/></g></g>
<g transform="translate(31.3,251.8) rotate(-90)"><g transform="matrix(0.6119,0,0.2100,-0.6000,0,0)" fill="none" stroke="#111" stroke-width="1.45" stroke-linecap="round" stroke-linejoin="round"><path transform="translate(0,0)" d="M6.6,11.2 C6.3,12.9 5.1,14 3.4,14 C1.4,14 0,12.6 0,10.4 V3.6 C0,1.4 1.4,0 3.4,0 C5.1,0 6.3,1.1 6.6,2.8"/><path transform="translate(9.2,0)" d="M0,0 V10 M0,7 C0,8.9 1.2,10 2.9,10 C4.6,10 5.8,8.9 5.8,7 V0"/><path transform="translate(17.6,0)" d="M0,10 V-4 M0,7 C0,8.9,1.26,10,3,10 C4.74,10,6,8.9,6,7 V3 C6,1.1,4.74,0,3,0 C1.26,0,0,1.1,0,3"/><path transform="translate(26.2,0)" d="M5.8,10 V0 M5.8,3 C5.8,1.1,4.58,0,2.9,0 C1.22,0,0,1.1,0,3 V7 C0,8.9,1.22,10,2.9,10 C4.58,10,5.8,8.9,5.8,7"/><path transform="translate(34.6,0)" d="M0,0 V10.6 C0,12.7 1.1,14 2.7,14 C4.3,14 5.3,12.9 5.3,11.1 C5.3,9.2 4.2,8.1 2.4,7.8 C4.6,7.6 5.8,6.2 5.8,4 V3 C5.8,1.1 4.6,0 2.9,0 C1.2,0 0,1.1 0,3"/><path transform="translate(43,0)" d="M0.4,0.2 V0.5"/></g></g>
<g transform="translate(31.3,222.6) rotate(-90)"><g transform="matrix(0.5857,0,0.2050,-0.5857,0,0)" fill="none" stroke="#333" stroke-width="1.13" stroke-linecap="round" stroke-linejoin="round"><path transform="translate(0,0)" d="M0.5,0 H8 V13 H0.5 Z M9.8,0 H17.3 V13 H9.8 Z"/></g></g>
<g transform="translate(31.3,428.9) rotate(-90)"><g transform="matrix(0.5694,0,0.2100,-0.6000,0,0)" fill="none" stroke="#111" stroke-width="1.51" stroke-linecap="round" stroke-linejoin="round"><path transform="translate(0,0)" d="M0,0 V14 H7 V0"/><path transform="translate(9.6,0)" d="M0,2.9 V7.1 A2.9,2.9 0 0 0 5.8,7.1 V2.9 A2.9,2.9 0 0 0 0,2.9 Z"/><path transform="translate(18,0)" d="M5.8,7 C5.8,8.9 4.6,10 2.9,10 C1.2,10 0,8.9 0,7 V3 C0,1.1 1.2,0 2.9,0 C4.6,0 5.8,1.1 5.8,3 V10.4 C5.8,12.7 4.6,14 2.8,14 H1.4"/><path transform="translate(26.4,0)" d="M0,0 V10 M0,7 C0,8.9 1.2,10 2.9,10 C4.6,10 5.8,8.9 5.8,7 V0"/><path transform="translate(34.8,0)" d="M0.4,0.2 V0.5"/><path transform="translate(44.2,0)" d="M0,10 V3 C0,1.1,1.17,0,2.8,0 C4.43,0,5.6,1.1,5.6,3 M5.6,10 V0"/><path transform="translate(58.4,0)" d="M5.8,7 C5.8,8.9 4.6,10 2.9,10 C1.2,10 0,8.9 0,7 V3 C0,1.1 1.2,0 2.9,0 C4.6,0 5.8,1.1 5.8,3 V10.4 C5.8,12.7 4.6,14 2.8,14 H1.4"/><path transform="translate(66.8,0)" d="M5.8,10 V0 M5.8,3 C5.8,1.1,4.58,0,2.9,0 C1.22,0,0,1.1,0,3 V7 C0,8.9,1.22,10,2.9,10 C4.58,10,5.8,8.9,5.8,7"/><path transform="translate(75.2,0)" d="M0,0 V10 M0,7.2 C0,9 0.9,10 2.15,10 C3.4,10 4.3,9 4.3,7.2 V0 M4.3,7.2 C4.3,9 5.2,10 6.45,10 C7.7,10 8.6,9 8.6,7.2 V0"/><path transform="translate(86.4,0)" d="M5.8,10 V0 M5.8,3 C5.8,1.1,4.58,0,2.9,0 C1.22,0,0,1.1,0,3 V7 C0,8.9,1.22,10,2.9,10 C4.58,10,5.8,8.9,5.8,7"/></g></g>
<g transform="translate(31.3,501.4) rotate(-90)"><g transform="matrix(0.5588,0,0.2100,-0.6000,0,0)" fill="none" stroke="#111" stroke-width="1.52" stroke-linecap="round" stroke-linejoin="round"><path transform="translate(0,0)" d="M0,14 V0 L7,14 V0"/><path transform="translate(9.6,0)" d="M0,0 V10 M0,5.2 H5.8 M5.8,10 V0"/><path transform="translate(18,0)" d="M0,0 V10.6 C0,12.7 1.1,14 2.7,14 C4.3,14 5.3,12.9 5.3,11.1 C5.3,9.2 4.2,8.1 2.4,7.8 C4.6,7.6 5.8,6.2 5.8,4 V3 C5.8,1.1 4.6,0 2.9,0 C1.2,0 0,1.1 0,3"/><path transform="translate(26.4,0)" d="M0.4,0.2 V0.5"/></g></g>
<g transform="translate(31.3,484.2) rotate(-90)"><g transform="matrix(0.5857,0,0.2050,-0.5857,0,0)" fill="none" stroke="#333" stroke-width="1.13" stroke-linecap="round" stroke-linejoin="round"><path transform="translate(0,0)" d="M0.5,0 H8 V13 H0.5 Z M9.8,0 H17.3 V13 H9.8 Z"/></g></g>
<g transform="translate(31.3,472) rotate(-90)"><g transform="matrix(0.7326,0,0.2100,-0.6000,0,0)" fill="none" stroke="#111" stroke-width="1.33" stroke-linecap="round" stroke-linejoin="round"><path transform="translate(0,0)" d="M5.8,7 C5.8,8.9 4.6,10 2.9,10 C1.2,10 0,8.9 0,7 V3 C0,1.1 1.2,0 2.9,0 C4.6,0 5.8,1.1 5.8,3 V10.4 C5.8,12.7 4.6,14 2.8,14 H1.4"/><path transform="translate(8.4,0)" d="M0,10 V6.2 C0,4.4 1.2,3.4 2.9,3.4 C4.6,3.4 5.8,4.4 5.8,6.2 M5.8,10 V-1 C5.8,-2.9 4.6,-4 2.9,-4 H1.5"/><path transform="translate(16.8,0)" d="M5.4,14 H2.9 C1.2,14 0,12.6 0,10.6 V3 C0,1.1 1.2,0 2.9,0 C4.6,0 5.8,1.1 5.8,3 V6.2 C5.8,8.1 4.6,9.2 2.9,9.2 C1.2,9.2 0,8.1 0,6.2"/><path transform="translate(25.2,0)" d="M0,0 C0.9,0.1 1.3,0.7 1.6,1.9 L3.6,10 L5.8,0"/><path transform="translate(33.6,0)" d="M0.4,0.2 V0.5"/></g></g>
<g transform="translate(31.3,562.4) rotate(-90)"><g transform="matrix(0.6186,0,0.2100,-0.6000,0,0)" fill="none" stroke="#111" stroke-width="1.44" stroke-linecap="round" stroke-linejoin="round"><path transform="translate(0,0)" d="M0,0 V14 H3.4 C5.3,14 6.5,12.8 6.5,10.9 C6.5,9 5.3,7.7 3.4,7.7 H0 M3.4,7.7 C5.6,7.7 7,6.3 7,4 C7,1.6 5.6,0 3.4,0 H0"/><path transform="translate(9.6,0)" d="M0.2,8.3 C0.7,9.4 1.6,10 2.7,10 C4.2,10 5.2,9 5.2,7.6 C5.2,6.2 4.2,5.4 2.4,5.4 C4.4,5.4 5.4,4.4 5.4,2.8 C5.4,1.1 4.3,0 2.7,0 C1.4,0 0.5,0.7 0,1.9"/><path transform="translate(17.6,0)" d="M5.8,10 V0 M5.8,3 C5.8,1.1,4.58,0,2.9,0 C1.22,0,0,1.1,0,3 V7 C0,8.9,1.22,10,2.9,10 C4.58,10,5.8,8.9,5.8,7"/><path transform="translate(26,0)" d="M0,0 V10 L3.5,4 L7,10 V0"/><path transform="translate(35.6,0)" d="M0.4,0.2 V0.5"/><path transform="translate(45,0)" d="M0,10 V3 C0,1.1,1.17,0,2.8,0 C4.43,0,5.6,1.1,5.6,3 M5.6,10 V0"/><path transform="translate(53.2,0)" d="M0,0 V10 M0,5.2 H5.8 M5.8,10 V0"/><path transform="translate(61.6,0)" d="M0,0 V10.6 C0,12.7 1.1,14 2.7,14 C4.3,14 5.3,12.9 5.3,11.1 C5.3,9.2 4.2,8.1 2.4,7.8 C4.6,7.6 5.8,6.2 5.8,4 V3 C5.8,1.1 4.6,0 2.9,0 C1.2,0 0,1.1 0,3"/><path transform="translate(70,0)" d="M0.4,0.2 V0.5"/></g></g>
<g transform="translate(31.3,516.6) rotate(-90)"><g transform="matrix(0.5857,0,0.2050,-0.5857,0,0)" fill="none" stroke="#333" stroke-width="1.13" stroke-linecap="round" stroke-linejoin="round"><path transform="translate(0,0)" d="M0.5,0 H8 V13 H0.5 Z M9.8,0 H17.3 V13 H9.8 Z"/></g></g>
<g transform="translate(31.3,636) rotate(-90)"><g transform="matrix(0.5770,0,0.2100,-0.6000,0,0)" fill="none" stroke="#111" stroke-width="1.5" stroke-linecap="round" stroke-linejoin="round"><path transform="translate(0,0)" d="M0,0 V14 H7 V0"/><path transform="translate(9.6,0)" d="M0,2.9 V7.1 A2.9,2.9 0 0 0 5.8,7.1 V2.9 A2.9,2.9 0 0 0 0,2.9 Z"/><path transform="translate(18,0)" d="M5.8,7 C5.8,8.9 4.6,10 2.9,10 C1.2,10 0,8.9 0,7 V3 C0,1.1 1.2,0 2.9,0 C4.6,0 5.8,1.1 5.8,3 V10.4 C5.8,12.7 4.6,14 2.8,14 H1.4"/><path transform="translate(26.4,0)" d="M0,0 V10 M0,7 C0,8.9 1.2,10 2.9,10 C4.6,10 5.8,8.9 5.8,7 V0"/><path transform="translate(34.8,0)" d="M0.4,0.2 V0.5"/><path transform="translate(44.2,0)" d="M0,10 V3 C0,1.1,1.17,0,2.8,0 C4.43,0,5.6,1.1,5.6,3 M5.6,10 V0"/><path transform="translate(58.4,0)" d="M5.8,7 C5.8,8.9 4.6,10 2.9,10 C1.2,10 0,8.9 0,7 V3 C0,1.1 1.2,0 2.9,0 C4.6,0 5.8,1.1 5.8,3 V10.4 C5.8,12.7 4.6,14 2.8,14 H1.4"/><path transform="translate(66.8,0)" d="M5.8,10 V0 M5.8,3 C5.8,1.1,4.58,0,2.9,0 C1.22,0,0,1.1,0,3 V7 C0,8.9,1.22,10,2.9,10 C4.58,10,5.8,8.9,5.8,7"/><path transform="translate(75.2,0)" d="M0,0 V10 M0,7.2 C0,9 0.9,10 2.15,10 C3.4,10 4.3,9 4.3,7.2 V0 M4.3,7.2 C4.3,9 5.2,10 6.45,10 C7.7,10 8.6,9 8.6,7.2 V0"/><path transform="translate(86.4,0)" d="M5.8,10 V0 M5.8,3 C5.8,1.1,4.58,0,2.9,0 C1.22,0,0,1.1,0,3 V7 C0,8.9,1.22,10,2.9,10 C4.58,10,5.8,8.9,5.8,7"/></g></g>
<g transform="translate(31.3,707.6) rotate(-90)"><g transform="matrix(0.5588,0,0.2100,-0.6000,0,0)" fill="none" stroke="#111" stroke-width="1.52" stroke-linecap="round" stroke-linejoin="round"><path transform="translate(0,0)" d="M0,14 V0 L7,14 V0"/><path transform="translate(9.6,0)" d="M0,0 V10 M0,5.2 H5.8 M5.8,10 V0"/><path transform="translate(18,0)" d="M0,0 V10.6 C0,12.7 1.1,14 2.7,14 C4.3,14 5.3,12.9 5.3,11.1 C5.3,9.2 4.2,8.1 2.4,7.8 C4.6,7.6 5.8,6.2 5.8,4 V3 C5.8,1.1 4.6,0 2.9,0 C1.2,0 0,1.1 0,3"/><path transform="translate(26.4,0)" d="M0.4,0.2 V0.5"/></g></g>
<g transform="translate(31.3,690.4) rotate(-90)"><g transform="matrix(0.5857,0,0.2050,-0.5857,0,0)" fill="none" stroke="#333" stroke-width="1.13" stroke-linecap="round" stroke-linejoin="round"><path transform="translate(0,0)" d="M0.5,0 H8 V13 H0.5 Z M9.8,0 H17.3 V13 H9.8 Z"/></g></g>
<g transform="translate(31.3,678.2) rotate(-90)"><g transform="matrix(0.7151,0,0.2100,-0.6000,0,0)" fill="none" stroke="#111" stroke-width="1.34" stroke-linecap="round" stroke-linejoin="round"><path transform="translate(0,0)" d="M0,0 V10 M0,7 C0,8.9 1.2,10 2.9,10 C4.6,10 5.8,8.9 5.8,7 V0"/><path transform="translate(8.4,0)" d="M0,2.9 V7.1 A2.9,2.9 0 0 0 5.8,7.1 V2.9 A2.9,2.9 0 0 0 0,2.9 Z"/><path transform="translate(16.8,0)" d="M5.8,7 C5.8,8.9 4.6,10 2.9,10 C1.2,10 0,8.9 0,7 V3 C0,1.1 1.2,0 2.9,0 C4.6,0 5.8,1.1 5.8,3 V10.4 C5.8,12.7 4.6,14 2.8,14 H1.4"/><path transform="translate(25.2,0)" d="M0,0 C0.9,0.1 1.3,0.7 1.6,1.9 L3.6,10 L5.8,0"/><path transform="translate(33.6,0)" d="M0.4,0.2 V0.5"/></g></g>
<line x1="236.6" y1="173" x2="236.6" y2="372.8" stroke="#2a2a2a" stroke-width="0.72"/>
<line x1="448.3" y1="173" x2="448.3" y2="372.8" stroke="#2a2a2a" stroke-width="0.72"/>
<path d="M263.13,189.7 A14.5,14.5 0 0 1 291.87,189.7" stroke="#000" stroke-width="1.7" fill="none" />
<path d="M267.9,202.47 A14.5,14.5 0 0 0 274.8,205.87" stroke="#000" stroke-width="1.7" fill="none" />
<path d="M280.2,205.87 A14.5,14.5 0 0 0 287.1,202.47" stroke="#000" stroke-width="1.7" fill="none" />
<path d="M263.23,340.65 A14.5,14.5 0 0 0 291.77,340.65" stroke="#000" stroke-width="1.7" fill="none" />
<path d="M267.9,327.23 A14.5,14.5 0 0 1 274.8,323.83" stroke="#000" stroke-width="1.7" fill="none" />
<path d="M280.2,323.83 A14.5,14.5 0 0 1 287.1,327.23" stroke="#000" stroke-width="1.7" fill="none" />
<path d="M234.5,198.5 L277.5,185.3 L320.5,198.5 L321.4,199.5 L320.5,200.4 L234.5,200.4 L233.6,199.5 Z" stroke="#2a2a2a" stroke-width="0.72" fill="none" />
<path d="M234.5,331.9 L277.5,345 L320.5,331.9 L321.4,330.8 L320.5,329.8 L234.5,329.8 L233.6,330.8 Z" stroke="#2a2a2a" stroke-width="0.72" fill="none" />
<line x1="234.5" y1="198.5" x2="320.5" y2="198.5" stroke="#2a2a2a" stroke-width="0.5"/>
<line x1="234.5" y1="331.9" x2="320.5" y2="331.9" stroke="#2a2a2a" stroke-width="0.5"/>
<line x1="238.44" y1="200.4" x2="238.44" y2="329.8" stroke="#777" stroke-width="1"/>
<line x1="243.54" y1="200.4" x2="243.54" y2="329.8" stroke="#777" stroke-width="1"/>
<line x1="240.99" y1="203" x2="240.99" y2="329" stroke="#444" stroke-width="0.7" stroke-dasharray="4.8 2.8"/>
<line x1="250.61" y1="200.4" x2="250.61" y2="329.8" stroke="#777" stroke-width="1"/>
<line x1="255.71" y1="200.4" x2="255.71" y2="329.8" stroke="#777" stroke-width="1"/>
<line x1="253.16" y1="203" x2="253.16" y2="329" stroke="#444" stroke-width="0.7" stroke-dasharray="4.8 2.8"/>
<line x1="262.78" y1="200.4" x2="262.78" y2="329.8" stroke="#777" stroke-width="1"/>
<line x1="267.88" y1="200.4" x2="267.88" y2="329.8" stroke="#777" stroke-width="1"/>
<line x1="265.33" y1="203" x2="265.33" y2="329" stroke="#444" stroke-width="0.7" stroke-dasharray="4.8 2.8"/>
<line x1="274.95" y1="200.4" x2="274.95" y2="329.8" stroke="#777" stroke-width="1"/>
<line x1="280.05" y1="200.4" x2="280.05" y2="329.8" stroke="#777" stroke-width="1"/>
<line x1="277.5" y1="188" x2="277.5" y2="349" stroke="#444" stroke-width="0.6" stroke-dasharray="14 2 2 2"/>
<line x1="287.12" y1="200.4" x2="287.12" y2="329.8" stroke="#777" stroke-width="1"/>
<line x1="292.22" y1="200.4" x2="292.22" y2="329.8" stroke="#777" stroke-width="1"/>
<line x1="289.67" y1="203" x2="289.67" y2="329" stroke="#444" stroke-width="0.7" stroke-dasharray="4.8 2.8"/>
<line x1="299.29" y1="200.4" x2="299.29" y2="329.8" stroke="#777" stroke-width="1"/>
<line x1="304.39" y1="200.4" x2="304.39" y2="329.8" stroke="#777" stroke-width="1"/>
<line x1="301.84" y1="203" x2="301.84" y2="329" stroke="#444" stroke-width="0.7" stroke-dasharray="4.8 2.8"/>
<line x1="311.46" y1="200.4" x2="311.46" y2="329.8" stroke="#777" stroke-width="1"/>
<line x1="316.56" y1="200.4" x2="316.56" y2="329.8" stroke="#777" stroke-width="1"/>
<line x1="314.01" y1="203" x2="314.01" y2="329" stroke="#444" stroke-width="0.7" stroke-dasharray="4.8 2.8"/>
<line x1="236.3" y1="200.4" x2="236.3" y2="329.8" stroke="#666" stroke-width="0.6"/>
<line x1="318.7" y1="200.4" x2="318.7" y2="329.8" stroke="#666" stroke-width="0.6"/>
<circle cx="270.3" cy="184.6" r="2.3" stroke="#222" stroke-width="1" fill="#8c8c8c"/>
<circle cx="284.9" cy="184.6" r="2.3" stroke="#222" stroke-width="1" fill="#8c8c8c"/>
<circle cx="270.3" cy="345.2" r="2.3" stroke="#222" stroke-width="1" fill="#8c8c8c"/>
<circle cx="284.9" cy="345.2" r="2.3" stroke="#222" stroke-width="1" fill="#8c8c8c"/>
<line x1="264.5" y1="191.6" x2="291" y2="191.6" stroke="#444" stroke-width="0.7"/>
<line x1="264.5" y1="338.1" x2="291" y2="338.1" stroke="#444" stroke-width="0.7"/>
<path d="M392.33,189.7 A14.5,14.5 0 0 1 421.07,189.7" stroke="#000" stroke-width="1.7" fill="none" />
<path d="M397.1,202.47 A14.5,14.5 0 0 0 404,205.87" stroke="#000" stroke-width="1.7" fill="none" />
<path d="M409.4,205.87 A14.5,14.5 0 0 0 416.3,202.47" stroke="#000" stroke-width="1.7" fill="none" />
<path d="M392.43,340.65 A14.5,14.5 0 0 0 420.97,340.65" stroke="#000" stroke-width="1.7" fill="none" />
<path d="M397.1,327.23 A14.5,14.5 0 0 1 404,323.83" stroke="#000" stroke-width="1.7" fill="none" />
<path d="M409.4,323.83 A14.5,14.5 0 0 1 416.3,327.23" stroke="#000" stroke-width="1.7" fill="none" />
<path d="M363.7,198.5 L406.7,185.3 L449.7,198.5 L450.6,199.5 L449.7,200.4 L363.7,200.4 L362.8,199.5 Z" stroke="#2a2a2a" stroke-width="0.72" fill="none" />
<path d="M363.7,331.9 L406.7,345 L449.7,331.9 L450.6,330.8 L449.7,329.8 L363.7,329.8 L362.8,330.8 Z" stroke="#2a2a2a" stroke-width="0.72" fill="none" />
<line x1="363.7" y1="198.5" x2="449.7" y2="198.5" stroke="#2a2a2a" stroke-width="0.5"/>
<line x1="363.7" y1="331.9" x2="449.7" y2="331.9" stroke="#2a2a2a" stroke-width="0.5"/>
<line x1="367.64" y1="200.4" x2="367.64" y2="329.8" stroke="#777" stroke-width="1"/>
<line x1="372.74" y1="200.4" x2="372.74" y2="329.8" stroke="#777" stroke-width="1"/>
<line x1="370.19" y1="203" x2="370.19" y2="329" stroke="#444" stroke-width="0.7" stroke-dasharray="4.8 2.8"/>
<line x1="379.81" y1="200.4" x2="379.81" y2="329.8" stroke="#777" stroke-width="1"/>
<line x1="384.91" y1="200.4" x2="384.91" y2="329.8" stroke="#777" stroke-width="1"/>
<line x1="382.36" y1="203" x2="382.36" y2="329" stroke="#444" stroke-width="0.7" stroke-dasharray="4.8 2.8"/>
<line x1="391.98" y1="200.4" x2="391.98" y2="329.8" stroke="#777" stroke-width="1"/>
<line x1="397.08" y1="200.4" x2="397.08" y2="329.8" stroke="#777" stroke-width="1"/>
<line x1="394.53" y1="203" x2="394.53" y2="329" stroke="#444" stroke-width="0.7" stroke-dasharray="4.8 2.8"/>
<line x1="404.15" y1="200.4" x2="404.15" y2="329.8" stroke="#777" stroke-width="1"/>
<line x1="409.25" y1="200.4" x2="409.25" y2="329.8" stroke="#777" stroke-width="1"/>
<line x1="406.7" y1="188" x2="406.7" y2="349" stroke="#444" stroke-width="0.6" stroke-dasharray="14 2 2 2"/>
<line x1="416.32" y1="200.4" x2="416.32" y2="329.8" stroke="#777" stroke-width="1"/>
<line x1="421.42" y1="200.4" x2="421.42" y2="329.8" stroke="#777" stroke-width="1"/>
<line x1="418.87" y1="203" x2="418.87" y2="329" stroke="#444" stroke-width="0.7" stroke-dasharray="4.8 2.8"/>
<line x1="428.49" y1="200.4" x2="428.49" y2="329.8" stroke="#777" stroke-width="1"/>
<line x1="433.59" y1="200.4" x2="433.59" y2="329.8" stroke="#777" stroke-width="1"/>
<line x1="431.04" y1="203" x2="431.04" y2="329" stroke="#444" stroke-width="0.7" stroke-dasharray="4.8 2.8"/>
<line x1="440.66" y1="200.4" x2="440.66" y2="329.8" stroke="#777" stroke-width="1"/>
<line x1="445.76" y1="200.4" x2="445.76" y2="329.8" stroke="#777" stroke-width="1"/>
<line x1="443.21" y1="203" x2="443.21" y2="329" stroke="#444" stroke-width="0.7" stroke-dasharray="4.8 2.8"/>
<line x1="365.5" y1="200.4" x2="365.5" y2="329.8" stroke="#666" stroke-width="0.6"/>
<line x1="447.9" y1="200.4" x2="447.9" y2="329.8" stroke="#666" stroke-width="0.6"/>
<circle cx="399.5" cy="184.6" r="2.3" stroke="#222" stroke-width="1" fill="#8c8c8c"/>
<circle cx="414.1" cy="184.6" r="2.3" stroke="#222" stroke-width="1" fill="#8c8c8c"/>
<circle cx="399.5" cy="345.2" r="2.3" stroke="#222" stroke-width="1" fill="#8c8c8c"/>
<circle cx="414.1" cy="345.2" r="2.3" stroke="#222" stroke-width="1" fill="#8c8c8c"/>
<line x1="393.7" y1="191.6" x2="420.2" y2="191.6" stroke="#444" stroke-width="0.7"/>
<rect x="224" y="167.8" width="236.5" height="5.2" stroke="#2a2a2a" stroke-width="0.72" fill="none"/>
<rect x="233.8" y="372.8" width="217.2" height="3.6" stroke="#2a2a2a" stroke-width="0.72" fill="none"/>
<path d="M265.3,376.4 L265.3,385.3 L268.1,385.3 L268.1,378.8 L282.5,378.8 L282.5,385.3 L285.3,385.3 L285.3,376.4" stroke="#2a2a2a" stroke-width="0.72" fill="none" />
<path d="M399,376.4 L399,385.3 L401.8,385.3 L401.8,378.8 L417.4,378.8 L417.4,385.3 L420.2,385.3 L420.2,376.4" stroke="#2a2a2a" stroke-width="0.72" fill="none" />
<line x1="314.2" y1="173" x2="314.2" y2="376.4" stroke="#2a2a2a" stroke-width="0.72"/>
<line x1="317.3" y1="173" x2="317.3" y2="376.4" stroke="#2a2a2a" stroke-width="0.72"/>
<rect x="310" y="376.4" width="8.8" height="1.8" stroke="#2a2a2a" stroke-width="0.5" fill="none"/>
<line x1="367.8" y1="173" x2="367.8" y2="376.4" stroke="#2a2a2a" stroke-width="0.72"/>
<line x1="370.8" y1="173" x2="370.8" y2="376.4" stroke="#2a2a2a" stroke-width="0.72"/>
<rect x="366.3" y="376.4" width="8.7" height="1.8" stroke="#2a2a2a" stroke-width="0.5" fill="none"/>
<path d="M319.23,174.99 A3.9,3.9 0 0 0 319.23,181.61" stroke="#2a2a2a" stroke-width="0.8" fill="none" />
<path d="M323.37,174.99 A3.9,3.9 0 0 1 323.37,181.61" stroke="#2a2a2a" stroke-width="0.8" fill="none" />
<path d="M319.23,184.39 A3.9,3.9 0 0 0 319.23,191.01" stroke="#2a2a2a" stroke-width="0.8" fill="none" />
<path d="M323.37,184.39 A3.9,3.9 0 0 1 323.37,191.01" stroke="#2a2a2a" stroke-width="0.8" fill="none" />
<path d="M319.23,193.69 A3.9,3.9 0 0 0 319.23,200.31" stroke="#2a2a2a" stroke-width="0.8" fill="none" />
<path d="M323.37,193.69 A3.9,3.9 0 0 1 323.37,200.31" stroke="#2a2a2a" stroke-width="0.8" fill="none" />
<line x1="321.3" y1="176.5" x2="321.3" y2="205.6" stroke="#333" stroke-width="0.6" stroke-dasharray="7 1.5 1.5 1.5"/>
<path d="M361.23,174.99 A3.9,3.9 0 0 0 361.23,181.61" stroke="#2a2a2a" stroke-width="0.8" fill="none" />
<path d="M365.37,174.99 A3.9,3.9 0 0 1 365.37,181.61" stroke="#2a2a2a" stroke-width="0.8" fill="none" />
<path d="M361.23,184.39 A3.9,3.9 0 0 0 361.23,191.01" stroke="#2a2a2a" stroke-width="0.8" fill="none" />
<path d="M365.37,184.39 A3.9,3.9 0 0 1 365.37,191.01" stroke="#2a2a2a" stroke-width="0.8" fill="none" />
<path d="M361.23,193.69 A3.9,3.9 0 0 0 361.23,200.31" stroke="#2a2a2a" stroke-width="0.8" fill="none" />
<path d="M365.37,193.69 A3.9,3.9 0 0 1 365.37,200.31" stroke="#2a2a2a" stroke-width="0.8" fill="none" />
<line x1="363.3" y1="176.5" x2="363.3" y2="205.6" stroke="#333" stroke-width="0.6" stroke-dasharray="7 1.5 1.5 1.5"/>
<circle cx="320.2" cy="198.9" r="1.2" stroke="#2a2a2a" stroke-width="0.6" fill="none"/>
<circle cx="364.4" cy="198.9" r="1.2" stroke="#2a2a2a" stroke-width="0.6" fill="none"/>
<rect x="448.3" y="233.4" width="5.6" height="22.6" stroke="#2a2a2a" stroke-width="0.72" fill="none"/>
<rect x="448.3" y="352.6" width="6.9" height="10" stroke="#2a2a2a" stroke-width="0.72" fill="none"/>
<rect x="456" y="351.3" width="6.2" height="12.3" stroke="#2a2a2a" stroke-width="0.72" fill="none"/>
<line x1="457.8" y1="351.3" x2="457.8" y2="363.6" stroke="#2a2a2a" stroke-width="0.5"/>
<line x1="460.2" y1="351.3" x2="460.2" y2="363.6" stroke="#2a2a2a" stroke-width="0.5"/>
<line x1="441" y1="357.6" x2="463.5" y2="357.6" stroke="#2a2a2a" stroke-width="0.5"/>
<line x1="260.8" y1="160.8" x2="298" y2="160.8" stroke="#000" stroke-width="1.35"/>
<path d="M264.8,160.8 L266,166.6 L292.8,166.6 L294,160.8" stroke="#2a2a2a" stroke-width="0.72" fill="none" />
<path d="M288.1,160.8 V149.7 H292.9 A2.75,2.75 0 0 0 292.9,144.2 H292.4 C289.4,143.6 287.4,142.5 287.4,140.5 V136.3 H292.9 A2.75,2.75 0 0 0 292.9,130.8 H292.4 C288.9,129.6 286.8,127 286.6,124.6 A1.6,1.6 0 0 0 286,121.5 C284.4,120.2 283,119.4 282.7,118.3 H281.7 V116" stroke="#2a2a2a" stroke-width="0.72" fill="none" />
<path d="M270.7,160.8 V149.7 H265.9 A2.75,2.75 0 0 1 265.9,144.2 H266.4 C269.4,143.6 271.4,142.5 271.4,140.5 V136.3 H265.9 A2.75,2.75 0 0 1 265.9,130.8 H266.4 C269.9,129.6 272,127 272.2,124.6 A1.6,1.6 0 0 1 272.8,121.5 C274.4,120.2 275.8,119.4 276.1,118.3 H277.1 V116" stroke="#2a2a2a" stroke-width="0.72" fill="none" />
<line x1="265.9" y1="149.7" x2="292.9" y2="149.7" stroke="#2a2a2a" stroke-width="0.5"/>
<line x1="265.9" y1="144.2" x2="292.9" y2="144.2" stroke="#2a2a2a" stroke-width="0.5"/>
<line x1="265.9" y1="136.3" x2="292.9" y2="136.3" stroke="#2a2a2a" stroke-width="0.5"/>
<line x1="265.9" y1="130.8" x2="292.9" y2="130.8" stroke="#2a2a2a" stroke-width="0.5"/>
<line x1="272.2" y1="124.6" x2="286.6" y2="124.6" stroke="#2a2a2a" stroke-width="0.5"/>
<line x1="272.8" y1="121.5" x2="286" y2="121.5" stroke="#2a2a2a" stroke-width="0.5"/>
<line x1="276.1" y1="118.3" x2="282.7" y2="118.3" stroke="#2a2a2a" stroke-width="0.5"/>
<line x1="272.8" y1="123" x2="286" y2="123" stroke="#2a2a2a" stroke-width="0.5"/>
<rect x="276.4" y="107" width="6" height="9" stroke="#2a2a2a" stroke-width="0.7" fill="#d0d0d0" rx="1.4"/>
<line x1="276.4" y1="109.2" x2="282.4" y2="109.2" stroke="#2a2a2a" stroke-width="0.4"/>
<line x1="276.4" y1="111.4" x2="282.4" y2="111.4" stroke="#2a2a2a" stroke-width="0.4"/>
<line x1="276.4" y1="113.6" x2="282.4" y2="113.6" stroke="#2a2a2a" stroke-width="0.4"/>
<line x1="278" y1="107" x2="278" y2="116" stroke="#2a2a2a" stroke-width="0.4"/>
<line x1="280.8" y1="107" x2="280.8" y2="116" stroke="#2a2a2a" stroke-width="0.4"/>
<rect x="277.9" y="105" width="3" height="2" stroke="#2a2a2a" stroke-width="0.5" fill="none"/>
<line x1="279.4" y1="103.6" x2="279.4" y2="168.6" stroke="#333" stroke-width="0.5" stroke-dasharray="12 1.6 1.6 1.6"/>
<line x1="273.1" y1="149.7" x2="273.1" y2="160.8" stroke="#2a2a2a" stroke-width="0.5"/>
<line x1="285.7" y1="149.7" x2="285.7" y2="160.8" stroke="#2a2a2a" stroke-width="0.5"/>
<line x1="273.4" y1="136.3" x2="273.4" y2="144.2" stroke="#2a2a2a" stroke-width="0.5"/>
<line x1="285.4" y1="136.3" x2="285.4" y2="144.2" stroke="#2a2a2a" stroke-width="0.5"/>
<path d="M261.7,158.6 L262.3,156.4 L264.6,154.2 L266.9,156.4 L267.5,158.6 Z" stroke="#2a2a2a" stroke-width="0.6" fill="none" />
<rect x="261.2" y="158.6" width="6.8" height="1.4" stroke="#2a2a2a" stroke-width="0.5" fill="#777"/>
<rect x="260.4" y="160" width="8.4" height="1.8" stroke="none" stroke-width="0" fill="#111"/>
<rect x="262" y="161.8" width="5.2" height="1.6" stroke="#2a2a2a" stroke-width="0.5" fill="#999"/>
<line x1="263.4" y1="163.4" x2="263.4" y2="168.6" stroke="#2a2a2a" stroke-width="0.5"/>
<line x1="265.8" y1="163.4" x2="265.8" y2="168.6" stroke="#2a2a2a" stroke-width="0.5"/>
<line x1="264.6" y1="153" x2="264.6" y2="170" stroke="#2a2a2a" stroke-width="0.4"/>
<path d="M291.3,158.6 L291.9,156.4 L294.2,154.2 L296.5,156.4 L297.1,158.6 Z" stroke="#2a2a2a" stroke-width="0.6" fill="none" />
<rect x="290.8" y="158.6" width="6.8" height="1.4" stroke="#2a2a2a" stroke-width="0.5" fill="#777"/>
<rect x="290" y="160" width="8.4" height="1.8" stroke="none" stroke-width="0" fill="#111"/>
<rect x="291.6" y="161.8" width="5.2" height="1.6" stroke="#2a2a2a" stroke-width="0.5" fill="#999"/>
<line x1="293" y1="163.4" x2="293" y2="168.6" stroke="#2a2a2a" stroke-width="0.5"/>
<line x1="295.4" y1="163.4" x2="295.4" y2="168.6" stroke="#2a2a2a" stroke-width="0.5"/>
<line x1="294.2" y1="153" x2="294.2" y2="170" stroke="#2a2a2a" stroke-width="0.4"/>
<line x1="309.2" y1="160.8" x2="346.4" y2="160.8" stroke="#000" stroke-width="1.35"/>
<path d="M313.2,160.8 L314.4,166.6 L341.2,166.6 L342.4,160.8" stroke="#2a2a2a" stroke-width="0.72" fill="none" />
<path d="M336.5,160.8 V149.7 H341.3 A2.75,2.75 0 0 0 341.3,144.2 H340.8 C337.8,143.6 335.8,142.5 335.8,140.5 V136.3 H341.3 A2.75,2.75 0 0 0 341.3,130.8 H340.8 C337.3,129.6 335.2,127 335,124.6 A1.6,1.6 0 0 0 334.4,121.5 C332.8,120.2 331.4,119.4 331.1,118.3 H330.1 V116" stroke="#2a2a2a" stroke-width="0.72" fill="none" />
<path d="M319.1,160.8 V149.7 H314.3 A2.75,2.75 0 0 1 314.3,144.2 H314.8 C317.8,143.6 319.8,142.5 319.8,140.5 V136.3 H314.3 A2.75,2.75 0 0 1 314.3,130.8 H314.8 C318.3,129.6 320.4,127 320.6,124.6 A1.6,1.6 0 0 1 321.2,121.5 C322.8,120.2 324.2,119.4 324.5,118.3 H325.5 V116" stroke="#2a2a2a" stroke-width="0.72" fill="none" />
<line x1="314.3" y1="149.7" x2="341.3" y2="149.7" stroke="#2a2a2a" stroke-width="0.5"/>
<line x1="314.3" y1="144.2" x2="341.3" y2="144.2" stroke="#2a2a2a" stroke-width="0.5"/>
<line x1="314.3" y1="136.3" x2="341.3" y2="136.3" stroke="#2a2a2a" stroke-width="0.5"/>
<line x1="314.3" y1="130.8" x2="341.3" y2="130.8" stroke="#2a2a2a" stroke-width="0.5"/>
<line x1="320.6" y1="124.6" x2="335" y2="124.6" stroke="#2a2a2a" stroke-width="0.5"/>
<line x1="321.2" y1="121.5" x2="334.4" y2="121.5" stroke="#2a2a2a" stroke-width="0.5"/>
<line x1="324.5" y1="118.3" x2="331.1" y2="118.3" stroke="#2a2a2a" stroke-width="0.5"/>
<line x1="321.2" y1="123" x2="334.4" y2="123" stroke="#2a2a2a" stroke-width="0.5"/>
<rect x="324.8" y="107" width="6" height="9" stroke="#2a2a2a" stroke-width="0.7" fill="#d0d0d0" rx="1.4"/>
<line x1="324.8" y1="109.2" x2="330.8" y2="109.2" stroke="#2a2a2a" stroke-width="0.4"/>
<line x1="324.8" y1="111.4" x2="330.8" y2="111.4" stroke="#2a2a2a" stroke-width="0.4"/>
<line x1="324.8" y1="113.6" x2="330.8" y2="113.6" stroke="#2a2a2a" stroke-width="0.4"/>
<line x1="326.4" y1="107" x2="326.4" y2="116" stroke="#2a2a2a" stroke-width="0.4"/>
<line x1="329.2" y1="107" x2="329.2" y2="116" stroke="#2a2a2a" stroke-width="0.4"/>
<rect x="326.3" y="105" width="3" height="2" stroke="#2a2a2a" stroke-width="0.5" fill="none"/>
<line x1="327.8" y1="103.6" x2="327.8" y2="168.6" stroke="#333" stroke-width="0.5" stroke-dasharray="12 1.6 1.6 1.6"/>
<line x1="321.5" y1="149.7" x2="321.5" y2="160.8" stroke="#2a2a2a" stroke-width="0.5"/>
<line x1="334.1" y1="149.7" x2="334.1" y2="160.8" stroke="#2a2a2a" stroke-width="0.5"/>
<line x1="321.8" y1="136.3" x2="321.8" y2="144.2" stroke="#2a2a2a" stroke-width="0.5"/>
<line x1="333.8" y1="136.3" x2="333.8" y2="144.2" stroke="#2a2a2a" stroke-width="0.5"/>
<path d="M310.1,158.6 L310.7,156.4 L313,154.2 L315.3,156.4 L315.9,158.6 Z" stroke="#2a2a2a" stroke-width="0.6" fill="none" />
<rect x="309.6" y="158.6" width="6.8" height="1.4" stroke="#2a2a2a" stroke-width="0.5" fill="#777"/>
<rect x="308.8" y="160" width="8.4" height="1.8" stroke="none" stroke-width="0" fill="#111"/>
<rect x="310.4" y="161.8" width="5.2" height="1.6" stroke="#2a2a2a" stroke-width="0.5" fill="#999"/>
<line x1="311.8" y1="163.4" x2="311.8" y2="168.6" stroke="#2a2a2a" stroke-width="0.5"/>
<line x1="314.2" y1="163.4" x2="314.2" y2="168.6" stroke="#2a2a2a" stroke-width="0.5"/>
<line x1="313" y1="153" x2="313" y2="170" stroke="#2a2a2a" stroke-width="0.4"/>
<path d="M339.7,158.6 L340.3,156.4 L342.6,154.2 L344.9,156.4 L345.5,158.6 Z" stroke="#2a2a2a" stroke-width="0.6" fill="none" />
<rect x="339.2" y="158.6" width="6.8" height="1.4" stroke="#2a2a2a" stroke-width="0.5" fill="#777"/>
<rect x="338.4" y="160" width="8.4" height="1.8" stroke="none" stroke-width="0" fill="#111"/>
<rect x="340" y="161.8" width="5.2" height="1.6" stroke="#2a2a2a" stroke-width="0.5" fill="#999"/>
<line x1="341.4" y1="163.4" x2="341.4" y2="168.6" stroke="#2a2a2a" stroke-width="0.5"/>
<line x1="343.8" y1="163.4" x2="343.8" y2="168.6" stroke="#2a2a2a" stroke-width="0.5"/>
<line x1="342.6" y1="153" x2="342.6" y2="170" stroke="#2a2a2a" stroke-width="0.4"/>
<line x1="357.6" y1="160.8" x2="394.8" y2="160.8" stroke="#000" stroke-width="1.35"/>
<path d="M361.6,160.8 L362.8,166.6 L389.6,166.6 L390.8,160.8" stroke="#2a2a2a" stroke-width="0.72" fill="none" />
<path d="M384.9,160.8 V149.7 H389.7 A2.75,2.75 0 0 0 389.7,144.2 H389.2 C386.2,143.6 384.2,142.5 384.2,140.5 V136.3 H389.7 A2.75,2.75 0 0 0 389.7,130.8 H389.2 C385.7,129.6 383.6,127 383.4,124.6 A1.6,1.6 0 0 0 382.8,121.5 C381.2,120.2 379.8,119.4 379.5,118.3 H378.5 V116" stroke="#2a2a2a" stroke-width="0.72" fill="none" />
<path d="M367.5,160.8 V149.7 H362.7 A2.75,2.75 0 0 1 362.7,144.2 H363.2 C366.2,143.6 368.2,142.5 368.2,140.5 V136.3 H362.7 A2.75,2.75 0 0 1 362.7,130.8 H363.2 C366.7,129.6 368.8,127 369,124.6 A1.6,1.6 0 0 1 369.6,121.5 C371.2,120.2 372.6,119.4 372.9,118.3 H373.9 V116" stroke="#2a2a2a" stroke-width="0.72" fill="none" />
<line x1="362.7" y1="149.7" x2="389.7" y2="149.7" stroke="#2a2a2a" stroke-width="0.5"/>
<line x1="362.7" y1="144.2" x2="389.7" y2="144.2" stroke="#2a2a2a" stroke-width="0.5"/>
<line x1="362.7" y1="136.3" x2="389.7" y2="136.3" stroke="#2a2a2a" stroke-width="0.5"/>
<line x1="362.7" y1="130.8" x2="389.7" y2="130.8" stroke="#2a2a2a" stroke-width="0.5"/>
<line x1="369" y1="124.6" x2="383.4" y2="124.6" stroke="#2a2a2a" stroke-width="0.5"/>
<line x1="369.6" y1="121.5" x2="382.8" y2="121.5" stroke="#2a2a2a" stroke-width="0.5"/>
<line x1="372.9" y1="118.3" x2="379.5" y2="118.3" stroke="#2a2a2a" stroke-width="0.5"/>
<line x1="369.6" y1="123" x2="382.8" y2="123" stroke="#2a2a2a" stroke-width="0.5"/>
<rect x="373.2" y="107" width="6" height="9" stroke="#2a2a2a" stroke-width="0.7" fill="#d0d0d0" rx="1.4"/>
<line x1="373.2" y1="109.2" x2="379.2" y2="109.2" stroke="#2a2a2a" stroke-width="0.4"/>
<line x1="373.2" y1="111.4" x2="379.2" y2="111.4" stroke="#2a2a2a" stroke-width="0.4"/>
<line x1="373.2" y1="113.6" x2="379.2" y2="113.6" stroke="#2a2a2a" stroke-width="0.4"/>
<line x1="374.8" y1="107" x2="374.8" y2="116" stroke="#2a2a2a" stroke-width="0.4"/>
<line x1="377.6" y1="107" x2="377.6" y2="116" stroke="#2a2a2a" stroke-width="0.4"/>
<rect x="374.7" y="105" width="3" height="2" stroke="#2a2a2a" stroke-width="0.5" fill="none"/>
<line x1="376.2" y1="103.6" x2="376.2" y2="168.6" stroke="#333" stroke-width="0.5" stroke-dasharray="12 1.6 1.6 1.6"/>
<line x1="369.9" y1="149.7" x2="369.9" y2="160.8" stroke="#2a2a2a" stroke-width="0.5"/>
<line x1="382.5" y1="149.7" x2="382.5" y2="160.8" stroke="#2a2a2a" stroke-width="0.5"/>
<line x1="370.2" y1="136.3" x2="370.2" y2="144.2" stroke="#2a2a2a" stroke-width="0.5"/>
<line x1="382.2" y1="136.3" x2="382.2" y2="144.2" stroke="#2a2a2a" stroke-width="0.5"/>
<path d="M358.5,158.6 L359.1,156.4 L361.4,154.2 L363.7,156.4 L364.3,158.6 Z" stroke="#2a2a2a" stroke-width="0.6" fill="none" />
<rect x="358" y="158.6" width="6.8" height="1.4" stroke="#2a2a2a" stroke-width="0.5" fill="#777"/>
<rect x="357.2" y="160" width="8.4" height="1.8" stroke="none" stroke-width="0" fill="#111"/>
<rect x="358.8" y="161.8" width="5.2" height="1.6" stroke="#2a2a2a" stroke-width="0.5" fill="#999"/>
<line x1="360.2" y1="163.4" x2="360.2" y2="168.6" stroke="#2a2a2a" stroke-width="0.5"/>
<line x1="362.6" y1="163.4" x2="362.6" y2="168.6" stroke="#2a2a2a" stroke-width="0.5"/>
<line x1="361.4" y1="153" x2="361.4" y2="170" stroke="#2a2a2a" stroke-width="0.4"/>
<path d="M388.1,158.6 L388.7,156.4 L391,154.2 L393.3,156.4 L393.9,158.6 Z" stroke="#2a2a2a" stroke-width="0.6" fill="none" />
<rect x="387.6" y="158.6" width="6.8" height="1.4" stroke="#2a2a2a" stroke-width="0.5" fill="#777"/>
<rect x="386.8" y="160" width="8.4" height="1.8" stroke="none" stroke-width="0" fill="#111"/>
<rect x="388.4" y="161.8" width="5.2" height="1.6" stroke="#2a2a2a" stroke-width="0.5" fill="#999"/>
<line x1="389.8" y1="163.4" x2="389.8" y2="168.6" stroke="#2a2a2a" stroke-width="0.5"/>
<line x1="392.2" y1="163.4" x2="392.2" y2="168.6" stroke="#2a2a2a" stroke-width="0.5"/>
<line x1="391" y1="153" x2="391" y2="170" stroke="#2a2a2a" stroke-width="0.4"/>
<path d="M299.5,167.8 L299.6,157.8 L303.5,150.6 L308.3,150.6 L312.2,157.8 L312.3,167.8" stroke="#2a2a2a" stroke-width="0.6" fill="none" />
<line x1="299.6" y1="157.8" x2="303.5" y2="150.6" stroke="#222" stroke-width="1.1"/>
<line x1="312.2" y1="157.8" x2="308.3" y2="150.6" stroke="#222" stroke-width="1.1"/>
<line x1="301.6" y1="154.2" x2="310.2" y2="154.2" stroke="#2a2a2a" stroke-width="0.5"/>
<line x1="299.6" y1="157.8" x2="312.2" y2="157.8" stroke="#2a2a2a" stroke-width="0.5"/>
<line x1="299.5" y1="162.6" x2="312.3" y2="162.6" stroke="#2a2a2a" stroke-width="0.5"/>
<line x1="303.5" y1="150.6" x2="303.5" y2="167.8" stroke="#555" stroke-width="0.4"/>
<line x1="308.3" y1="150.6" x2="308.3" y2="167.8" stroke="#555" stroke-width="0.4"/>
<ellipse cx="305.9" cy="146.4" rx="2.9" ry="2.5" stroke="#333" stroke-width="0.6" fill="#707070"/>
<line x1="304.7" y1="148.9" x2="304.7" y2="150.6" stroke="#2a2a2a" stroke-width="0.5"/>
<line x1="307.1" y1="148.9" x2="307.1" y2="150.6" stroke="#2a2a2a" stroke-width="0.5"/>
<line x1="305.9" y1="141.8" x2="305.9" y2="172.4" stroke="#333" stroke-width="0.45" stroke-dasharray="1.5 1.2"/>
<path d="M348.2,167.8 L348.3,157.8 L352.2,150.6 L357,150.6 L360.9,157.8 L361,167.8" stroke="#2a2a2a" stroke-width="0.6" fill="none" />
<line x1="348.3" y1="157.8" x2="352.2" y2="150.6" stroke="#222" stroke-width="1.1"/>
<line x1="360.9" y1="157.8" x2="357" y2="150.6" stroke="#222" stroke-width="1.1"/>
<line x1="350.3" y1="154.2" x2="358.9" y2="154.2" stroke="#2a2a2a" stroke-width="0.5"/>
<line x1="348.3" y1="157.8" x2="360.9" y2="157.8" stroke="#2a2a2a" stroke-width="0.5"/>
<line x1="348.2" y1="162.6" x2="361" y2="162.6" stroke="#2a2a2a" stroke-width="0.5"/>
<line x1="352.2" y1="150.6" x2="352.2" y2="167.8" stroke="#555" stroke-width="0.4"/>
<line x1="357" y1="150.6" x2="357" y2="167.8" stroke="#555" stroke-width="0.4"/>
<ellipse cx="354.6" cy="146.4" rx="2.9" ry="2.5" stroke="#333" stroke-width="0.6" fill="#707070"/>
<line x1="353.4" y1="148.9" x2="353.4" y2="150.6" stroke="#2a2a2a" stroke-width="0.5"/>
<line x1="355.8" y1="148.9" x2="355.8" y2="150.6" stroke="#2a2a2a" stroke-width="0.5"/>
<line x1="354.6" y1="141.8" x2="354.6" y2="172.4" stroke="#333" stroke-width="0.45" stroke-dasharray="1.5 1.2"/>
<rect x="291" y="150.5" width="2.2" height="8.5" stroke="#2a2a2a" stroke-width="0.5" fill="none"/>
<rect x="240.8" y="155.5" width="17.6" height="7.5" stroke="#2a2a2a" stroke-width="0.72" fill="none"/>
<rect x="240.8" y="163" width="17.6" height="4.8" stroke="#2a2a2a" stroke-width="0.5" fill="none"/>
<line x1="247" y1="159.2" x2="251.6" y2="159.2" stroke="#222" stroke-width="1.4"/>
<path d="M432.4,167.8 L450.2,136.6 M439.4,167.8 L456.0,138.6" stroke="#2a2a2a" stroke-width="0.72" fill="none" />
<line x1="451.4" y1="148.8" x2="451.4" y2="167.8" stroke="#2a2a2a" stroke-width="0.72"/>
<line x1="460.5" y1="167.8" x2="496.6" y2="125.6" stroke="#2a2a2a" stroke-width="0.72"/>
<path d="M426.3,167.8 V158.6 A8,8 0 0 1 440.2,153.4" stroke="#2a2a2a" stroke-width="0.72" fill="none" />
<circle cx="434.3" cy="158.4" r="3.2" stroke="#2a2a2a" stroke-width="0.72" fill="none"/>
<line x1="425.3" y1="158.4" x2="430.6" y2="158.4" stroke="#2a2a2a" stroke-width="0.5"/>
<path d="M441.6,167.8 V164.0 L439.8,161" stroke="#2a2a2a" stroke-width="0.72" fill="none" />
<circle cx="469.4" cy="109.6" r="40" stroke="#2a2a2a" stroke-width="0.72" fill="none"/>
<circle cx="469.4" cy="109.6" r="38.6" stroke="#2a2a2a" stroke-width="0.72" fill="none"/>
<circle cx="469.4" cy="109.6" r="31.6" stroke="#2a2a2a" stroke-width="0.72" fill="none"/>
<circle cx="469.4" cy="109.6" r="30" stroke="#2a2a2a" stroke-width="0.72" fill="none"/>
<circle cx="494.36" cy="134.56" r="1.9" stroke="#2a2a2a" stroke-width="0.6" fill="none"/>
<circle cx="444.44" cy="134.56" r="1.9" stroke="#2a2a2a" stroke-width="0.6" fill="none"/>
<circle cx="444.44" cy="84.64" r="1.9" stroke="#2a2a2a" stroke-width="0.6" fill="none"/>
<circle cx="494.36" cy="84.64" r="1.9" stroke="#2a2a2a" stroke-width="0.6" fill="none"/>
<ellipse cx="433.8" cy="109.6" rx="1.9" ry="1.3" stroke="#111" stroke-width="0.7" fill="none"/>
<ellipse cx="505" cy="109.6" rx="1.9" ry="1.3" stroke="#111" stroke-width="0.7" fill="none"/>
<line x1="433.8" y1="109.6" x2="460.4" y2="109.6" stroke="#333" stroke-width="0.6"/>
<line x1="478.4" y1="109.6" x2="505" y2="109.6" stroke="#333" stroke-width="0.6"/>
<line x1="466.4" y1="109.6" x2="472.4" y2="109.6" stroke="#333" stroke-width="0.6"/>
<line x1="469.4" y1="60.8" x2="469.4" y2="98" stroke="#333" stroke-width="0.6"/>
<line x1="469.4" y1="102" x2="469.4" y2="106" stroke="#333" stroke-width="0.6"/>
<line x1="469.4" y1="109.6" x2="469.4" y2="152" stroke="#333" stroke-width="0.6"/>
<path d="M464.2,69 A5.2,5.2 0 0 1 474.6,69" stroke="#2a2a2a" stroke-width="0.72" fill="none" />
<rect x="459.8" y="69" width="19.2" height="2.2" stroke="#2a2a2a" stroke-width="0.6" fill="none"/>
<rect x="462.8" y="71.2" width="13.2" height="8" stroke="#2a2a2a" stroke-width="0.6" fill="#fff"/>
<line x1="465.1" y1="71.2" x2="465.1" y2="79.2" stroke="#2a2a2a" stroke-width="0.5"/>
<line x1="473.7" y1="71.2" x2="473.7" y2="79.2" stroke="#2a2a2a" stroke-width="0.5"/>
<line x1="462.8" y1="73.6" x2="476" y2="73.6" stroke="#2a2a2a" stroke-width="0.5"/>
<path d="M459,69 L460.5,65.4 L462,69 Z" stroke="#2a2a2a" stroke-width="0.5" fill="#111" />
<path d="M459,71.2 L460.5,74.8 L462,71.2 Z" stroke="#2a2a2a" stroke-width="0.5" fill="#111" />
<line x1="460.5" y1="64.6" x2="460.5" y2="76" stroke="#111" stroke-width="0.8"/>
<path d="M476.8,69 L478.3,65.4 L479.8,69 Z" stroke="#2a2a2a" stroke-width="0.5" fill="#111" />
<path d="M476.8,71.2 L478.3,74.8 L479.8,71.2 Z" stroke="#2a2a2a" stroke-width="0.5" fill="#111" />
<line x1="478.3" y1="64.6" x2="478.3" y2="76" stroke="#111" stroke-width="0.8"/>
<rect x="464" y="140.4" width="10.8" height="7.2" stroke="#2a2a2a" stroke-width="0.6" fill="#fff"/>
<line x1="466.1" y1="140.4" x2="466.1" y2="147.6" stroke="#2a2a2a" stroke-width="0.5"/>
<line x1="472.7" y1="140.4" x2="472.7" y2="147.6" stroke="#2a2a2a" stroke-width="0.5"/>
<line x1="464" y1="145" x2="474.8" y2="145" stroke="#2a2a2a" stroke-width="0.5"/>
<rect x="457.8" y="147.6" width="23.2" height="3" stroke="#2a2a2a" stroke-width="0.6" fill="#fff" rx="1.2"/>
<path d="M464.2,150.6 A5.2,4.6 0 0 0 474.6,150.6" stroke="#2a2a2a" stroke-width="0.72" fill="none" />
<path d="M459.3,147.6 L460.8,144 L462.3,147.6 Z" stroke="#2a2a2a" stroke-width="0.5" fill="#111" />
<path d="M459.4,150.6 L460.8,153.6 L462.2,150.6 Z" stroke="#2a2a2a" stroke-width="0.5" fill="#111" />
<line x1="460.8" y1="143.5" x2="460.8" y2="154.4" stroke="#111" stroke-width="0.8"/>
<path d="M476.5,147.6 L478,144 L479.5,147.6 Z" stroke="#2a2a2a" stroke-width="0.5" fill="#111" />
<path d="M476.6,150.6 L478,153.6 L479.4,150.6 Z" stroke="#2a2a2a" stroke-width="0.5" fill="#111" />
<line x1="478" y1="143.5" x2="478" y2="154.4" stroke="#111" stroke-width="0.8"/>
<line x1="275.2" y1="378.8" x2="275.2" y2="419.2" stroke="#2a2a2a" stroke-width="0.7"/>
<line x1="409.5" y1="378.8" x2="409.5" y2="419.2" stroke="#2a2a2a" stroke-width="0.7"/>
<line x1="275.2" y1="417.5" x2="409.5" y2="417.5" stroke="#2a2a2a" stroke-width="0.7"/>
<path d="M275.2,417.5 L287.4,415.5 L287.4,419.5 Z" stroke="none" stroke-width="0" fill="#000" />
<path d="M409.5,417.5 L397.3,419.5 L397.3,415.5 Z" stroke="none" stroke-width="0" fill="#000" />
<g transform="translate(340.2,412.3) rotate(0)"><g transform="matrix(0.8214,0,0.2875,-0.8214,-10.02,0)" fill="none" stroke="#000" stroke-width="1.27" stroke-linecap="round" stroke-linejoin="round"><path transform="translate(0,0)" d="M5.9,14 H1 L0.4,7.6 C1.2,8.6 2.3,9 3.3,9 C5.2,9 6.4,7.7 6.4,5.8 V3.2 C6.4,1.3 5.1,0 3.2,0 C1.4,0 0.3,1 0,2.6"/><path transform="translate(9,0)" d="M5.9,14 H1 L0.4,7.6 C1.2,8.6 2.3,9 3.3,9 C5.2,9 6.4,7.7 6.4,5.8 V3.2 C6.4,1.3 5.1,0 3.2,0 C1.4,0 0.3,1 0,2.6"/><path transform="translate(18,0)" d="M0,3.2 V10.8 A3.2,3.2 0 0 0 6.4,10.8 V3.2 A3.2,3.2 0 0 0 0,3.2 Z"/></g></g>
<rect x="700.4" y="78.6" width="122.1" height="60.9" stroke="#2a2a2a" stroke-width="0.72" fill="none"/>
<line x1="696.4" y1="108.9" x2="837.8" y2="108.9" stroke="#333" stroke-width="0.55" stroke-dasharray="34 6 7 6"/>
<rect x="822.5" y="69.8" width="3.6" height="78.8" stroke="#2a2a2a" stroke-width="0.72" fill="none" rx="1.6"/>
<rect x="826.1" y="82" width="3.2" height="55" stroke="#2a2a2a" stroke-width="0.5" fill="none"/>
<line x1="827.7" y1="82" x2="827.7" y2="137" stroke="#2a2a2a" stroke-width="0.4"/>
<path d="M819.4,73.6 L822.3,71 L822.3,76.2 Z" stroke="none" stroke-width="0" fill="#111" />
<path d="M829.2,73.6 L826.3,71 L826.3,76.2 Z" stroke="none" stroke-width="0" fill="#111" />
<line x1="818.6" y1="73.6" x2="830" y2="73.6" stroke="#111" stroke-width="0.6"/>
<path d="M819.4,144.8 L822.3,142.2 L822.3,147.4 Z" stroke="none" stroke-width="0" fill="#111" />
<path d="M829.2,144.8 L826.3,142.2 L826.3,147.4 Z" stroke="none" stroke-width="0" fill="#111" />
<line x1="818.6" y1="144.8" x2="830" y2="144.8" stroke="#111" stroke-width="0.6"/>
<path d="M831.8,84.5 L828.6,82.5 L828.6,86.5 Z" stroke="none" stroke-width="0" fill="#111" />
<line x1="825.4" y1="84.5" x2="831.8" y2="84.5" stroke="#222" stroke-width="0.6"/>
<path d="M831.8,100 L828.6,98 L828.6,102 Z" stroke="none" stroke-width="0" fill="#111" />
<line x1="825.4" y1="100" x2="831.8" y2="100" stroke="#222" stroke-width="0.6"/>
<path d="M831.8,119.8 L828.6,117.8 L828.6,121.8 Z" stroke="none" stroke-width="0" fill="#111" />
<line x1="825.4" y1="119.8" x2="831.8" y2="119.8" stroke="#222" stroke-width="0.6"/>
<path d="M831.8,135.3 L828.6,133.3 L828.6,137.3 Z" stroke="none" stroke-width="0" fill="#111" />
<line x1="825.4" y1="135.3" x2="831.8" y2="135.3" stroke="#222" stroke-width="0.6"/>
<path d="M757.1,68.2 A5.4,5.0 0 0 1 767.9,68.2" stroke="#2a2a2a" stroke-width="0.72" fill="none" />
<rect x="752.7" y="68.2" width="19.6" height="2.8" stroke="#2a2a2a" stroke-width="0.6" fill="none"/>
<path d="M755.9,71 V77.6 A6.6,4 0 0 0 769.1,77.6 V71" stroke="#2a2a2a" stroke-width="0.72" fill="none" />
<path d="M751.7,68.2 L753.3,64.2 L754.9,68.2 Z" stroke="#2a2a2a" stroke-width="0.4" fill="#111" />
<path d="M751.7,71 L753.3,75.2 L754.9,71 Z" stroke="#2a2a2a" stroke-width="0.4" fill="#111" />
<line x1="753.3" y1="63.6" x2="753.3" y2="76" stroke="#111" stroke-width="0.8"/>
<path d="M770.1,68.2 L771.7,64.2 L773.3,68.2 Z" stroke="#2a2a2a" stroke-width="0.4" fill="#111" />
<path d="M770.1,71 L771.7,75.2 L773.3,71 Z" stroke="#2a2a2a" stroke-width="0.4" fill="#111" />
<line x1="771.7" y1="63.6" x2="771.7" y2="76" stroke="#111" stroke-width="0.8"/>
<ellipse cx="738.6" cy="73" rx="5.6" ry="1.7" stroke="#2a2a2a" stroke-width="0.6" fill="none"/>
<path d="M735.3,73 V78.6 M741.9,73 V78.6 M735.3,78.6 A3.3,2.2 0 0 0 741.9,78.6" stroke="#2a2a2a" stroke-width="0.6" fill="none" />
<line x1="737.4" y1="70.6" x2="737.4" y2="78.6" stroke="#2a2a2a" stroke-width="0.45"/>
<line x1="739.8" y1="70.6" x2="739.8" y2="78.6" stroke="#2a2a2a" stroke-width="0.45"/>
<line x1="738.6" y1="69.6" x2="738.6" y2="81.4" stroke="#2a2a2a" stroke-width="0.4"/>
<ellipse cx="732.4" cy="146.8" rx="16.2" ry="2.9" stroke="#2a2a2a" stroke-width="0.6" fill="none"/>
<rect x="722.5" y="120.3" width="7.8" height="47.1" stroke="#2a2a2a" stroke-width="0.72" fill="#fff"/>
<rect x="795.6" y="120.3" width="7.4" height="47.1" stroke="#2a2a2a" stroke-width="0.72" fill="#fff"/>
<path d="M733.6,143.8 V140.4 A4.6,2.6 0 0 1 742.8,140.4 V143.8" stroke="#2a2a2a" stroke-width="0.6" fill="none" />
<line x1="733.6" y1="141.6" x2="742.8" y2="141.6" stroke="#2a2a2a" stroke-width="0.45"/>
<rect x="731.3" y="149.6" width="10.1" height="17.8" stroke="#2a2a2a" stroke-width="0.6" fill="none"/>
<line x1="732.8" y1="137.4" x2="732.8" y2="169" stroke="#2a2a2a" stroke-width="0.4"/>
<line x1="734.2" y1="149.6" x2="734.2" y2="167.4" stroke="#2a2a2a" stroke-width="0.4"/>
<line x1="730.6" y1="161.3" x2="742" y2="161.3" stroke="#000" stroke-width="1.5"/>
<rect x="739.4" y="150.6" width="2" height="16.8" stroke="#2a2a2a" stroke-width="0.5" fill="none"/>
<path d="M714.9,159.2 L717.8,154.2 L720.7,159.2 Z" stroke="#2a2a2a" stroke-width="0.5" fill="#ccc" />
<rect x="713.8" y="159.2" width="8" height="2.4" stroke="#2a2a2a" stroke-width="0.5" fill="#111"/>
<rect x="715.2" y="161.6" width="5.2" height="2" stroke="#2a2a2a" stroke-width="0.5" fill="#777"/>
<line x1="716.7" y1="163.6" x2="716.7" y2="168.6" stroke="#2a2a2a" stroke-width="0.45"/>
<line x1="718.9" y1="163.6" x2="718.9" y2="168.6" stroke="#2a2a2a" stroke-width="0.45"/>
<line x1="717.8" y1="152.8" x2="717.8" y2="170" stroke="#2a2a2a" stroke-width="0.4"/>
<path d="M743.5,159.2 L746.4,154.2 L749.3,159.2 Z" stroke="#2a2a2a" stroke-width="0.5" fill="#ccc" />
<rect x="742.4" y="159.2" width="8" height="2.4" stroke="#2a2a2a" stroke-width="0.5" fill="#111"/>
<rect x="743.8" y="161.6" width="5.2" height="2" stroke="#2a2a2a" stroke-width="0.5" fill="#777"/>
<line x1="745.3" y1="163.6" x2="745.3" y2="168.6" stroke="#2a2a2a" stroke-width="0.45"/>
<line x1="747.5" y1="163.6" x2="747.5" y2="168.6" stroke="#2a2a2a" stroke-width="0.45"/>
<line x1="746.4" y1="152.8" x2="746.4" y2="170" stroke="#2a2a2a" stroke-width="0.4"/>
<path d="M758.2,145.6 V141 A4.2,2.8 0 0 1 766.6,141 V145.6" stroke="#2a2a2a" stroke-width="0.6" fill="none" />
<rect x="750.4" y="145.6" width="24" height="2" stroke="#2a2a2a" stroke-width="0.6" fill="#ddd" rx="0.9"/>
<line x1="750.4" y1="148.4" x2="774.4" y2="148.4" stroke="#2a2a2a" stroke-width="0.5"/>
<path d="M752,145.6 L753.7,141.6 L755.4,145.6 Z" stroke="#2a2a2a" stroke-width="0.4" fill="#111" />
<line x1="753.7" y1="147.6" x2="753.7" y2="163" stroke="#2a2a2a" stroke-width="0.7"/>
<rect x="752.5" y="148.4" width="2.4" height="2.6" stroke="#2a2a2a" stroke-width="0.4" fill="#111"/>
<path d="M769.4,145.6 L771.1,141.6 L772.8,145.6 Z" stroke="#2a2a2a" stroke-width="0.4" fill="#111" />
<line x1="771.1" y1="147.6" x2="771.1" y2="163" stroke="#2a2a2a" stroke-width="0.7"/>
<rect x="769.9" y="148.4" width="2.4" height="2.6" stroke="#2a2a2a" stroke-width="0.4" fill="#111"/>
<path d="M756.2,149.6 H768.6 L764.6,154 H760.2 Z" stroke="#2a2a2a" stroke-width="0.6" fill="none" />
<line x1="760.2" y1="154" x2="760.2" y2="163" stroke="#2a2a2a" stroke-width="0.5"/>
<line x1="764.6" y1="154" x2="764.6" y2="163" stroke="#2a2a2a" stroke-width="0.5"/>
<rect x="755.8" y="163" width="13.2" height="4.4" stroke="#2a2a2a" stroke-width="0.6" fill="none"/>
<line x1="758" y1="163" x2="758" y2="167.4" stroke="#2a2a2a" stroke-width="0.45"/>
<line x1="766.8" y1="163" x2="766.8" y2="167.4" stroke="#2a2a2a" stroke-width="0.45"/>
<rect x="783.4" y="150.4" width="2.5" height="17" stroke="#2a2a2a" stroke-width="0.55" fill="none" rx="1.1"/>
<path d="M789.8,167.4 L789.8,163.2 L793.8,150.6 L795.6,150.6" stroke="#2a2a2a" stroke-width="0.6" fill="none" />
<line x1="792.4" y1="154.6" x2="795.6" y2="154.6" stroke="#2a2a2a" stroke-width="0.45"/>
<line x1="791.18" y1="158.4" x2="795.6" y2="158.4" stroke="#2a2a2a" stroke-width="0.45"/>
<line x1="789.84" y1="162.6" x2="795.6" y2="162.6" stroke="#2a2a2a" stroke-width="0.45"/>
<path d="M793.6,150.6 L793.6,147.6 L795.6,145.2" stroke="#2a2a2a" stroke-width="0.6" fill="#888" />
<rect x="701.6" y="167.4" width="121.9" height="5.4" stroke="#2a2a2a" stroke-width="0.72" fill="#fff" rx="1.2"/>
<line x1="707.7" y1="165.8" x2="707.7" y2="169.4" stroke="#2a2a2a" stroke-width="0.5"/>
<line x1="707.7" y1="171" x2="707.7" y2="176.4" stroke="#2a2a2a" stroke-width="0.5"/>
<line x1="719" y1="165.8" x2="719" y2="169.4" stroke="#2a2a2a" stroke-width="0.5"/>
<line x1="719" y1="171" x2="719" y2="176.4" stroke="#2a2a2a" stroke-width="0.5"/>
<line x1="740.9" y1="165.8" x2="740.9" y2="169.4" stroke="#2a2a2a" stroke-width="0.5"/>
<line x1="740.9" y1="171" x2="740.9" y2="176.4" stroke="#2a2a2a" stroke-width="0.5"/>
<line x1="762.8" y1="165.8" x2="762.8" y2="169.4" stroke="#2a2a2a" stroke-width="0.5"/>
<line x1="762.8" y1="171" x2="762.8" y2="176.4" stroke="#2a2a2a" stroke-width="0.5"/>
<line x1="784.7" y1="165.8" x2="784.7" y2="169.4" stroke="#2a2a2a" stroke-width="0.5"/>
<line x1="784.7" y1="171" x2="784.7" y2="176.4" stroke="#2a2a2a" stroke-width="0.5"/>
<line x1="806.8" y1="165.8" x2="806.8" y2="169.4" stroke="#2a2a2a" stroke-width="0.5"/>
<line x1="806.8" y1="171" x2="806.8" y2="176.4" stroke="#2a2a2a" stroke-width="0.5"/>
<line x1="817.7" y1="165.8" x2="817.7" y2="169.4" stroke="#2a2a2a" stroke-width="0.5"/>
<line x1="817.7" y1="171" x2="817.7" y2="176.4" stroke="#2a2a2a" stroke-width="0.5"/>
<line x1="714.4" y1="172.8" x2="714.4" y2="372.9" stroke="#2a2a2a" stroke-width="0.72"/>
<line x1="811" y1="172.8" x2="811" y2="372.9" stroke="#2a2a2a" stroke-width="0.72"/>
<line x1="706.5" y1="172.8" x2="706.5" y2="375.7" stroke="#2a2a2a" stroke-width="0.72"/>
<line x1="818.7" y1="172.8" x2="818.7" y2="375.7" stroke="#2a2a2a" stroke-width="0.72"/>
<rect x="711.4" y="372.9" width="102.4" height="2.8" stroke="#2a2a2a" stroke-width="0.6" fill="none"/>
<line x1="736" y1="372.5" x2="750" y2="372.5" stroke="#2a2a2a" stroke-width="0.5"/>
<rect x="690.9" y="375.7" width="143.7" height="9.7" stroke="#2a2a2a" stroke-width="0.72" fill="none" rx="1"/>
<line x1="670.9" y1="198.6" x2="692.6" y2="185.9" stroke="#2a2a2a" stroke-width="0.72"/>
<path d="M670.9,198.6 L670.7,199.6 L671.2,200.3 H698.4 V185.9" stroke="#2a2a2a" stroke-width="0.72" fill="none" />
<line x1="671.2" y1="198.6" x2="698.4" y2="198.6" stroke="#2a2a2a" stroke-width="0.5"/>
<path d="M703.3,172.6 C703.1,176.2 700,176.6 695.3,176.9 A7.6,7.6 0 0 0 687.7,184.3" stroke="#2a2a2a" stroke-width="0.72" fill="none" />
<path d="M690.9,184.9 A4.1,4.1 0 0 1 699.1,184.9" stroke="#2a2a2a" stroke-width="0.7" fill="none" />
<path d="M692.4,185.8 A2.9,2.6 0 0 1 698.2,186.2" stroke="#111" stroke-width="1.3" fill="none" />
<line x1="695" y1="187.2" x2="695" y2="192.6" stroke="#333" stroke-width="0.5"/>
<line x1="675.3" y1="200.3" x2="675.3" y2="329.4" stroke="#2a2a2a" stroke-width="0.72"/>
<line x1="694.3" y1="200.3" x2="694.3" y2="329.4" stroke="#2a2a2a" stroke-width="0.72"/>
<line x1="698.4" y1="200.3" x2="698.4" y2="329.4" stroke="#2a2a2a" stroke-width="0.72"/>
<line x1="698.4" y1="185.9" x2="710.8" y2="185.9" stroke="#2a2a2a" stroke-width="0.7"/>
<line x1="698.4" y1="198.4" x2="710.8" y2="198.4" stroke="#2a2a2a" stroke-width="0.7"/>
<line x1="712.1" y1="185.9" x2="712.1" y2="198.4" stroke="#8a8a8a" stroke-width="2.2"/>
<line x1="710.8" y1="185.4" x2="710.8" y2="198.9" stroke="#2a2a2a" stroke-width="0.5"/>
<line x1="708.4" y1="182.3" x2="713.8" y2="182.3" stroke="#2a2a2a" stroke-width="0.5"/>
<line x1="711.2" y1="179.7" x2="711.2" y2="184.9" stroke="#2a2a2a" stroke-width="0.5"/>
<line x1="709.8" y1="181.4" x2="709.8" y2="183.2" stroke="#222" stroke-width="1"/>
<line x1="708.4" y1="203" x2="713.8" y2="203" stroke="#2a2a2a" stroke-width="0.5"/>
<line x1="711.2" y1="200.4" x2="711.2" y2="205.6" stroke="#2a2a2a" stroke-width="0.5"/>
<line x1="709.8" y1="202.1" x2="709.8" y2="203.9" stroke="#222" stroke-width="1"/>
<line x1="698.4" y1="332" x2="710.8" y2="332" stroke="#2a2a2a" stroke-width="0.7"/>
<line x1="698.4" y1="343.8" x2="710.8" y2="343.8" stroke="#2a2a2a" stroke-width="0.7"/>
<line x1="712.1" y1="332" x2="712.1" y2="343.8" stroke="#8a8a8a" stroke-width="2.2"/>
<line x1="710.8" y1="331.5" x2="710.8" y2="344.3" stroke="#2a2a2a" stroke-width="0.5"/>
<line x1="708.4" y1="328.4" x2="713.8" y2="328.4" stroke="#2a2a2a" stroke-width="0.5"/>
<line x1="711.2" y1="325.8" x2="711.2" y2="331" stroke="#2a2a2a" stroke-width="0.5"/>
<line x1="709.8" y1="327.5" x2="709.8" y2="329.3" stroke="#222" stroke-width="1"/>
<line x1="708.4" y1="348.4" x2="713.8" y2="348.4" stroke="#2a2a2a" stroke-width="0.5"/>
<line x1="711.2" y1="345.8" x2="711.2" y2="351" stroke="#2a2a2a" stroke-width="0.5"/>
<line x1="709.8" y1="347.5" x2="709.8" y2="349.3" stroke="#222" stroke-width="1"/>
<circle cx="698.4" cy="185.9" r="0.8" stroke="none" stroke-width="0" fill="#111"/>
<circle cx="698.4" cy="198.5" r="0.8" stroke="none" stroke-width="0" fill="#111"/>
<path d="M671.2,329.4 L698.4,329.4 L698.4,343.8 L694.6,345.6 L671.2,331 Z" stroke="#2a2a2a" stroke-width="0.72" fill="none" />
<line x1="671.2" y1="331" x2="698.4" y2="331" stroke="#2a2a2a" stroke-width="0.5"/>
<line x1="854.3" y1="198.6" x2="832.6" y2="185.9" stroke="#2a2a2a" stroke-width="0.72"/>
<path d="M854.3,198.6 L854.5,199.6 L854,200.3 H826.8 V185.9" stroke="#2a2a2a" stroke-width="0.72" fill="none" />
<line x1="854" y1="198.6" x2="826.8" y2="198.6" stroke="#2a2a2a" stroke-width="0.5"/>
<path d="M821.9,172.6 C822.1,176.2 825.2,176.6 829.9,176.9 A7.6,7.6 0 0 1 837.5,184.3" stroke="#2a2a2a" stroke-width="0.72" fill="none" />
<path d="M834.3,184.9 A4.1,4.1 0 0 0 826.1,184.9" stroke="#2a2a2a" stroke-width="0.7" fill="none" />
<path d="M832.8,185.8 A2.9,2.6 0 0 0 827,186.2" stroke="#111" stroke-width="1.3" fill="none" />
<line x1="830.2" y1="187.2" x2="830.2" y2="192.6" stroke="#333" stroke-width="0.5"/>
<line x1="849.9" y1="200.3" x2="849.9" y2="329.4" stroke="#2a2a2a" stroke-width="0.72"/>
<line x1="830.9" y1="200.3" x2="830.9" y2="329.4" stroke="#2a2a2a" stroke-width="0.72"/>
<line x1="826.8" y1="200.3" x2="826.8" y2="329.4" stroke="#2a2a2a" stroke-width="0.72"/>
<line x1="826.8" y1="185.9" x2="814.4" y2="185.9" stroke="#2a2a2a" stroke-width="0.7"/>
<line x1="826.8" y1="198.4" x2="814.4" y2="198.4" stroke="#2a2a2a" stroke-width="0.7"/>
<line x1="813.1" y1="185.9" x2="813.1" y2="198.4" stroke="#8a8a8a" stroke-width="2.2"/>
<line x1="814.4" y1="185.4" x2="814.4" y2="198.9" stroke="#2a2a2a" stroke-width="0.5"/>
<line x1="816.8" y1="182.3" x2="811.4" y2="182.3" stroke="#2a2a2a" stroke-width="0.5"/>
<line x1="814" y1="179.7" x2="814" y2="184.9" stroke="#2a2a2a" stroke-width="0.5"/>
<line x1="815.4" y1="181.4" x2="815.4" y2="183.2" stroke="#222" stroke-width="1"/>
<line x1="816.8" y1="203" x2="811.4" y2="203" stroke="#2a2a2a" stroke-width="0.5"/>
<line x1="814" y1="200.4" x2="814" y2="205.6" stroke="#2a2a2a" stroke-width="0.5"/>
<line x1="815.4" y1="202.1" x2="815.4" y2="203.9" stroke="#222" stroke-width="1"/>
<line x1="826.8" y1="332" x2="814.4" y2="332" stroke="#2a2a2a" stroke-width="0.7"/>
<line x1="826.8" y1="343.8" x2="814.4" y2="343.8" stroke="#2a2a2a" stroke-width="0.7"/>
<line x1="813.1" y1="332" x2="813.1" y2="343.8" stroke="#8a8a8a" stroke-width="2.2"/>
<line x1="814.4" y1="331.5" x2="814.4" y2="344.3" stroke="#2a2a2a" stroke-width="0.5"/>
<line x1="816.8" y1="328.4" x2="811.4" y2="328.4" stroke="#2a2a2a" stroke-width="0.5"/>
<line x1="814" y1="325.8" x2="814" y2="331" stroke="#2a2a2a" stroke-width="0.5"/>
<line x1="815.4" y1="327.5" x2="815.4" y2="329.3" stroke="#222" stroke-width="1"/>
<line x1="816.8" y1="348.4" x2="811.4" y2="348.4" stroke="#2a2a2a" stroke-width="0.5"/>
<line x1="814" y1="345.8" x2="814" y2="351" stroke="#2a2a2a" stroke-width="0.5"/>
<line x1="815.4" y1="347.5" x2="815.4" y2="349.3" stroke="#222" stroke-width="1"/>
<circle cx="826.8" cy="185.9" r="0.8" stroke="none" stroke-width="0" fill="#111"/>
<circle cx="826.8" cy="198.5" r="0.8" stroke="none" stroke-width="0" fill="#111"/>
<path d="M854,329.4 L826.8,329.4 L826.8,343.8 L830.6,345.6 L854,331 Z" stroke="#2a2a2a" stroke-width="0.72" fill="none" />
<line x1="854" y1="331" x2="826.8" y2="331" stroke="#2a2a2a" stroke-width="0.5"/>
<rect x="761.3" y="233.3" width="37.2" height="22.2" stroke="#2a2a2a" stroke-width="0.72" fill="none"/>
<line x1="763.1" y1="237" x2="765.7" y2="237" stroke="#2a2a2a" stroke-width="0.45"/>
<line x1="764.4" y1="235.7" x2="764.4" y2="238.3" stroke="#2a2a2a" stroke-width="0.45"/>
<line x1="763.1" y1="251.8" x2="765.7" y2="251.8" stroke="#2a2a2a" stroke-width="0.45"/>
<line x1="764.4" y1="250.5" x2="764.4" y2="253.1" stroke="#2a2a2a" stroke-width="0.45"/>
<line x1="794.1" y1="237" x2="796.7" y2="237" stroke="#2a2a2a" stroke-width="0.45"/>
<line x1="795.4" y1="235.7" x2="795.4" y2="238.3" stroke="#2a2a2a" stroke-width="0.45"/>
<line x1="794.1" y1="251.8" x2="796.7" y2="251.8" stroke="#2a2a2a" stroke-width="0.45"/>
<line x1="795.4" y1="250.5" x2="795.4" y2="253.1" stroke="#2a2a2a" stroke-width="0.45"/>
<circle cx="762.8" cy="336.7" r="7.5" stroke="#2a2a2a" stroke-width="0.72" fill="none"/>
<line x1="757.6" y1="336.4" x2="768" y2="336.4" stroke="#2a2a2a" stroke-width="0.7"/>
<line x1="759.4" y1="339.2" x2="766.2" y2="339.2" stroke="#2a2a2a" stroke-width="0.6"/>
<line x1="761.2" y1="341.8" x2="764.4" y2="341.8" stroke="#2a2a2a" stroke-width="0.6"/>
<line x1="762.8" y1="332.4" x2="762.8" y2="334.4" stroke="#2a2a2a" stroke-width="0.6"/>
<ellipse cx="765.2" cy="357.8" rx="1.5" ry="3.9" stroke="#2a2a2a" stroke-width="0.6" fill="none"/>
<line x1="760" y1="357.8" x2="770.6" y2="357.8" stroke="#2a2a2a" stroke-width="0.5"/>
<line x1="765.2" y1="352.6" x2="765.2" y2="363" stroke="#2a2a2a" stroke-width="0.5"/>
<circle cx="784.6" cy="357.4" r="5.4" stroke="#2a2a2a" stroke-width="0.9" fill="none"/>
<line x1="777" y1="357.4" x2="792.4" y2="357.4" stroke="#2a2a2a" stroke-width="0.5"/>
<line x1="784.6" y1="349.6" x2="784.6" y2="365.4" stroke="#2a2a2a" stroke-width="0.5"/>
<line x1="695.6" y1="370.8" x2="695.6" y2="419.2" stroke="#2a2a2a" stroke-width="0.7"/>
<line x1="829.8" y1="370.8" x2="829.8" y2="419.2" stroke="#2a2a2a" stroke-width="0.7"/>
<line x1="695.6" y1="417.4" x2="829.8" y2="417.4" stroke="#2a2a2a" stroke-width="0.7"/>
<path d="M695.6,417.4 L707.8,415.4 L707.8,419.4 Z" stroke="none" stroke-width="0" fill="#000" />
<path d="M829.8,417.4 L817.6,419.4 L817.6,415.4 Z" stroke="none" stroke-width="0" fill="#000" />
<g transform="translate(761.6,412.5) rotate(0)"><g transform="matrix(0.8214,0,0.2875,-0.8214,-10.02,0)" fill="none" stroke="#000" stroke-width="1.27" stroke-linecap="round" stroke-linejoin="round"><path transform="translate(0,0)" d="M5.9,14 H1 L0.4,7.6 C1.2,8.6 2.3,9 3.3,9 C5.2,9 6.4,7.7 6.4,5.8 V3.2 C6.4,1.3 5.1,0 3.2,0 C1.4,0 0.3,1 0,2.6"/><path transform="translate(9,0)" d="M5.9,14 H1 L0.4,7.6 C1.2,8.6 2.3,9 3.3,9 C5.2,9 6.4,7.7 6.4,5.8 V3.2 C6.4,1.3 5.1,0 3.2,0 C1.4,0 0.3,1 0,2.6"/><path transform="translate(18,0)" d="M0,3.2 V10.8 A3.2,3.2 0 0 0 6.4,10.8 V3.2 A3.2,3.2 0 0 0 0,3.2 Z"/></g></g>
<line x1="762.5" y1="63.9" x2="891.4" y2="63.9" stroke="#2a2a2a" stroke-width="0.7"/>
<line x1="834.6" y1="385.4" x2="891.4" y2="385.4" stroke="#2a2a2a" stroke-width="0.7"/>
<line x1="889.1" y1="63.9" x2="889.1" y2="385.4" stroke="#2a2a2a" stroke-width="0.7"/>
<path d="M889.1,63.9 L891.1,76.1 L887.1,76.1 Z" stroke="none" stroke-width="0" fill="#000" />
<path d="M889.1,385.4 L887.1,373.2 L891.1,373.2 Z" stroke="none" stroke-width="0" fill="#000" />
<g transform="translate(884.4,223.4) rotate(-90)"><g transform="matrix(0.8357,0,0.2925,-0.8357,-28.16,0)" fill="none" stroke="#000" stroke-width="1.25" stroke-linecap="round" stroke-linejoin="round"><path transform="translate(0,0)" d="M0,10.2 L3.2,14 V0"/><path transform="translate(5.8,0)" d="M5.9,14 H1 L0.4,7.6 C1.2,8.6 2.3,9 3.3,9 C5.2,9 6.4,7.7 6.4,5.8 V3.2 C6.4,1.3 5.1,0 3.2,0 C1.4,0 0.3,1 0,2.6"/><path transform="translate(14.8,0)" d="M0,3.2 V10.8 A3.2,3.2 0 0 0 6.4,10.8 V3.2 A3.2,3.2 0 0 0 0,3.2 Z"/><path transform="translate(23.8,0)" d="M0,3.2 V10.8 A3.2,3.2 0 0 0 6.4,10.8 V3.2 A3.2,3.2 0 0 0 0,3.2 Z"/><path transform="translate(32.8,0)" d="M0,8.4 H7 M3.5,11.9 V4.9 M0,2.4 H7"/><path transform="translate(42.4,0)" d="M0,10.2 L3.2,14 V0"/><path transform="translate(48.2,0)" d="M1.0,0.6 L-0.2,-3.2"/><path transform="translate(52,0)" d="M5.9,14 H1 L0.4,7.6 C1.2,8.6 2.3,9 3.3,9 C5.2,9 6.4,7.7 6.4,5.8 V3.2 C6.4,1.3 5.1,0 3.2,0 C1.4,0 0.3,1 0,2.6"/><path transform="translate(61,0)" d="M5.9,14 H1 L0.4,7.6 C1.2,8.6 2.3,9 3.3,9 C5.2,9 6.4,7.7 6.4,5.8 V3.2 C6.4,1.3 5.1,0 3.2,0 C1.4,0 0.3,1 0,2.6"/></g></g>
<g transform="translate(761.4,46.7) rotate(0)"><g transform="matrix(1.1714,0,0.4100,-1.1714,0,0)" fill="none" stroke="#000" stroke-width="1.27" stroke-linecap="round" stroke-linejoin="round"><path transform="translate(0,0)" d="M0,0 L4.1,14 L7.5,0 M1.46,5 H6.29"/></g></g>
<g transform="translate(573.4,259.3) rotate(0)"><g transform="matrix(1.1714,0,0.4100,-1.1714,0,0)" fill="none" stroke="#000" stroke-width="1.27" stroke-linecap="round" stroke-linejoin="round"><path transform="translate(0,0)" d="M0,0 L4.1,14 L7.5,0 M1.46,5 H6.29"/></g></g>
<path d="M553.7,264.9 L572.2,262.2 L571,264.9 L572.2,267.6 Z" stroke="none" stroke-width="0" fill="#000" />
<line x1="571.4" y1="264.9" x2="590.2" y2="264.9" stroke="#a4a4a4" stroke-width="1.5"/>
<rect x="235.3" y="442.5" width="85.6" height="24.9" stroke="#2a2a2a" stroke-width="0.72" fill="none" rx="2.6"/>
<line x1="239.2" y1="446.4" x2="275.6" y2="463.7" stroke="#2a2a2a" stroke-width="0.6"/>
<line x1="316.6" y1="446.4" x2="280.6" y2="463.7" stroke="#2a2a2a" stroke-width="0.6"/>
<line x1="271.3" y1="467.4" x2="271.3" y2="473.3" stroke="#2a2a2a" stroke-width="0.72"/>
<line x1="283.7" y1="467.4" x2="283.7" y2="473.3" stroke="#2a2a2a" stroke-width="0.72"/>
<path d="M436.8,467.4 H366.8 A2.6,2.6 0 0 1 364.2,464.8 V445.1 A2.6,2.6 0 0 1 366.8,442.5 H447.2 A2.6,2.6 0 0 1 449.8,445.1 V454.6" stroke="#2a2a2a" stroke-width="0.72" fill="none" />
<line x1="368.1" y1="446.4" x2="404.5" y2="463.7" stroke="#2a2a2a" stroke-width="0.6"/>
<line x1="445.5" y1="446.4" x2="409.5" y2="463.7" stroke="#2a2a2a" stroke-width="0.6"/>
<line x1="400.2" y1="467.4" x2="400.2" y2="473.3" stroke="#2a2a2a" stroke-width="0.72"/>
<line x1="412.6" y1="467.4" x2="412.6" y2="473.3" stroke="#2a2a2a" stroke-width="0.72"/>
<rect x="235.3" y="600.7" width="85.6" height="24.6" stroke="#2a2a2a" stroke-width="0.72" fill="none" rx="2.6"/>
<line x1="239.2" y1="621.6" x2="275.6" y2="604.6" stroke="#2a2a2a" stroke-width="0.6"/>
<line x1="316.6" y1="621.6" x2="280.6" y2="604.6" stroke="#2a2a2a" stroke-width="0.6"/>
<line x1="271.3" y1="594.8" x2="271.3" y2="600.7" stroke="#2a2a2a" stroke-width="0.72"/>
<line x1="283.7" y1="594.8" x2="283.7" y2="600.7" stroke="#2a2a2a" stroke-width="0.72"/>
<path d="M436.8,600.7 H366.8 A2.6,2.6 0 0 0 364.2,603.3 V622.7 A2.6,2.6 0 0 0 366.8,625.3 H447.2 A2.6,2.6 0 0 0 449.8,622.7 V612.8" stroke="#2a2a2a" stroke-width="0.72" fill="none" />
<line x1="368.1" y1="621.6" x2="404.5" y2="604.6" stroke="#2a2a2a" stroke-width="0.6"/>
<line x1="445.5" y1="621.6" x2="409.5" y2="604.6" stroke="#2a2a2a" stroke-width="0.6"/>
<line x1="400.2" y1="594.8" x2="400.2" y2="600.7" stroke="#2a2a2a" stroke-width="0.72"/>
<line x1="412.6" y1="594.8" x2="412.6" y2="600.7" stroke="#2a2a2a" stroke-width="0.72"/>
<path d="M316.3,473.3 V459.9 A1.35,1.35 0 0 1 319,459.9 V473.3" stroke="#2a2a2a" stroke-width="0.6" fill="none" />
<path d="M316.3,594.8 V608.4 A1.35,1.35 0 0 0 319,608.4 V594.8" stroke="#2a2a2a" stroke-width="0.6" fill="none" />
<path d="M366.3,473.3 V459.9 A1.35,1.35 0 0 1 369,459.9 V473.3" stroke="#2a2a2a" stroke-width="0.6" fill="none" />
<path d="M366.3,594.8 V608.4 A1.35,1.35 0 0 0 369,608.4 V594.8" stroke="#2a2a2a" stroke-width="0.6" fill="none" />
<line x1="369" y1="467.4" x2="436.8" y2="467.4" stroke="#2a2a2a" stroke-width="0.7"/>
<line x1="369" y1="600.7" x2="436.8" y2="600.7" stroke="#2a2a2a" stroke-width="0.7"/>
<line x1="237.3" y1="467.4" x2="316.3" y2="467.4" stroke="#2a2a2a" stroke-width="0.5"/>
<line x1="237.3" y1="600.7" x2="316.3" y2="600.7" stroke="#2a2a2a" stroke-width="0.5"/>
<line x1="225.6" y1="473.3" x2="436.8" y2="473.3" stroke="#2a2a2a" stroke-width="0.72"/>
<line x1="225.6" y1="594.8" x2="436.8" y2="594.8" stroke="#2a2a2a" stroke-width="0.72"/>
<line x1="225.6" y1="473.3" x2="225.6" y2="664.8" stroke="#2a2a2a" stroke-width="0.6"/>
<rect x="436.8" y="457.5" width="62.2" height="155.3" stroke="#2a2a2a" stroke-width="0.72" fill="none"/>
<rect x="428.8" y="454.6" width="78.8" height="2.9" stroke="#2a2a2a" stroke-width="0.6" fill="none" rx="1"/>
<line x1="467.5" y1="449.5" x2="467.5" y2="618" stroke="#333" stroke-width="0.55" stroke-dasharray="30 5 6 5"/>
<path d="M459.7,454.6 L460.6,451.6 L462.1,449.6 L463.6,451.6 L464.5,454.6 Z" stroke="#2a2a2a" stroke-width="0.5" fill="#666" />
<path d="M465.1,454.6 L466,451.6 L467.5,449.6 L469,451.6 L469.9,454.6 Z" stroke="#2a2a2a" stroke-width="0.5" fill="#666" />
<path d="M470.6,454.6 L471.5,451.6 L473,449.6 L474.5,451.6 L475.4,454.6 Z" stroke="#2a2a2a" stroke-width="0.5" fill="#666" />
<path d="M429.6,454.6 L431.9,452.4 L434.2,454.6 Z" stroke="#2a2a2a" stroke-width="0.4" fill="#222" />
<path d="M429.6,457.5 L431.9,460.2 L434.2,457.5 Z" stroke="#2a2a2a" stroke-width="0.4" fill="#222" />
<path d="M500.7,454.6 L503,452.4 L505.3,454.6 Z" stroke="#2a2a2a" stroke-width="0.4" fill="#222" />
<path d="M500.7,457.5 L503,460.2 L505.3,457.5 Z" stroke="#2a2a2a" stroke-width="0.4" fill="#222" />
<path d="M243.8,480.7 L245.8,478.7 L247.8,480.7 L245.8,482.7 Z" stroke="none" stroke-width="0" fill="#000" />
<path d="M268,480.7 L270,478.7 L272,480.7 L270,482.7 Z" stroke="none" stroke-width="0" fill="#000" />
<path d="M303.3,480.7 L305.3,478.7 L307.3,480.7 L305.3,482.7 Z" stroke="none" stroke-width="0" fill="#000" />
<path d="M327.5,480.7 L329.5,478.7 L331.5,480.7 L329.5,482.7 Z" stroke="none" stroke-width="0" fill="#000" />
<path d="M351.8,480.7 L353.8,478.7 L355.8,480.7 L353.8,482.7 Z" stroke="none" stroke-width="0" fill="#000" />
<path d="M376,480.7 L378,478.7 L380,480.7 L378,482.7 Z" stroke="none" stroke-width="0" fill="#000" />
<path d="M412.6,480.7 L414.6,478.7 L416.6,480.7 L414.6,482.7 Z" stroke="none" stroke-width="0" fill="#000" />
<path d="M243.8,587.7 L245.8,585.7 L247.8,587.7 L245.8,589.7 Z" stroke="none" stroke-width="0" fill="#000" />
<path d="M268,587.7 L270,585.7 L272,587.7 L270,589.7 Z" stroke="none" stroke-width="0" fill="#000" />
<path d="M304,587.7 L306,585.7 L308,587.7 L306,589.7 Z" stroke="none" stroke-width="0" fill="#000" />
<path d="M340.4,587.7 L342.4,585.7 L344.4,587.7 L342.4,589.7 Z" stroke="none" stroke-width="0" fill="#000" />
<path d="M383.5,587.7 L385.5,585.7 L387.5,587.7 L385.5,589.7 Z" stroke="none" stroke-width="0" fill="#000" />
<path d="M230.3,490.5 L232.3,488.5 L234.3,490.5 L232.3,492.5 Z" stroke="none" stroke-width="0" fill="#000" />
<path d="M230.3,533.6 L232.3,531.6 L234.3,533.6 L232.3,535.6 Z" stroke="none" stroke-width="0" fill="#000" />
<path d="M230.3,553.2 L232.3,551.2 L234.3,553.2 L232.3,555.2 Z" stroke="none" stroke-width="0" fill="#000" />
<path d="M230.3,578.2 L232.3,576.2 L234.3,578.2 L232.3,580.2 Z" stroke="none" stroke-width="0" fill="#000" />
<circle cx="305.6" cy="500.7" r="6.5" stroke="#2a2a2a" stroke-width="0.6" fill="none"/>
<circle cx="305.6" cy="500.7" r="4.4" stroke="#2a2a2a" stroke-width="0.6" fill="none"/>
<circle cx="305.6" cy="500.7" r="2.4" stroke="#111" stroke-width="0.9" fill="none"/>
<circle cx="305.6" cy="500.7" r="1.1" stroke="none" stroke-width="0" fill="#000"/>
<line x1="300.4" y1="500.7" x2="310.8" y2="500.7" stroke="#2a2a2a" stroke-width="0.4"/>
<line x1="305.6" y1="495.5" x2="305.6" y2="505.9" stroke="#2a2a2a" stroke-width="0.4"/>
<circle cx="330.2" cy="500.7" r="6.5" stroke="#2a2a2a" stroke-width="0.6" fill="none"/>
<circle cx="330.2" cy="500.7" r="4.4" stroke="#2a2a2a" stroke-width="0.6" fill="none"/>
<circle cx="330.2" cy="500.7" r="2.4" stroke="#111" stroke-width="0.9" fill="none"/>
<circle cx="330.2" cy="500.7" r="1.1" stroke="none" stroke-width="0" fill="#000"/>
<line x1="325" y1="500.7" x2="335.4" y2="500.7" stroke="#2a2a2a" stroke-width="0.4"/>
<line x1="330.2" y1="495.5" x2="330.2" y2="505.9" stroke="#2a2a2a" stroke-width="0.4"/>
<circle cx="354.5" cy="500.7" r="6.5" stroke="#2a2a2a" stroke-width="0.6" fill="none"/>
<circle cx="354.5" cy="500.7" r="4.4" stroke="#2a2a2a" stroke-width="0.6" fill="none"/>
<circle cx="354.5" cy="500.7" r="2.4" stroke="#111" stroke-width="0.9" fill="none"/>
<circle cx="354.5" cy="500.7" r="1.1" stroke="none" stroke-width="0" fill="#000"/>
<line x1="349.3" y1="500.7" x2="359.7" y2="500.7" stroke="#2a2a2a" stroke-width="0.4"/>
<line x1="354.5" y1="495.5" x2="354.5" y2="505.9" stroke="#2a2a2a" stroke-width="0.4"/>
<circle cx="378.8" cy="500.7" r="6.5" stroke="#2a2a2a" stroke-width="0.6" fill="none"/>
<circle cx="378.8" cy="500.7" r="4.4" stroke="#2a2a2a" stroke-width="0.6" fill="none"/>
<circle cx="378.8" cy="500.7" r="2.4" stroke="#111" stroke-width="0.9" fill="none"/>
<circle cx="378.8" cy="500.7" r="1.1" stroke="none" stroke-width="0" fill="#000"/>
<line x1="373.6" y1="500.7" x2="384" y2="500.7" stroke="#2a2a2a" stroke-width="0.4"/>
<line x1="378.8" y1="495.5" x2="378.8" y2="505.9" stroke="#2a2a2a" stroke-width="0.4"/>
<circle cx="314.2" cy="488.6" r="3.9" stroke="#2a2a2a" stroke-width="0.6" fill="none"/>
<ellipse cx="314.2" cy="488.6" rx="1.1" ry="1.9" stroke="#555" stroke-width="0.5" fill="none"/>
<circle cx="338.7" cy="488.6" r="3.9" stroke="#2a2a2a" stroke-width="0.6" fill="none"/>
<ellipse cx="338.7" cy="488.6" rx="1.1" ry="1.9" stroke="#555" stroke-width="0.5" fill="none"/>
<circle cx="363" cy="488.6" r="3.9" stroke="#2a2a2a" stroke-width="0.6" fill="none"/>
<ellipse cx="363" cy="488.6" rx="1.1" ry="1.9" stroke="#555" stroke-width="0.5" fill="none"/>
<circle cx="387.4" cy="488.6" r="3.9" stroke="#2a2a2a" stroke-width="0.6" fill="none"/>
<ellipse cx="387.4" cy="488.6" rx="1.1" ry="1.9" stroke="#555" stroke-width="0.5" fill="none"/>
<path d="M278.45,543.22 A3.9,3.9 0 0 1 280.35,543.22 A25,25 0 0 1 298.31,574.32 A3.9,3.9 0 0 1 297.36,575.96 A25,25 0 0 1 261.44,575.96 A3.9,3.9 0 0 1 260.49,574.32 A25,25 0 0 1 278.45,543.22 Z" stroke="#111" stroke-width="0.95" fill="none" />
<circle cx="279.4" cy="564.5" r="14.8" stroke="#2a2a2a" stroke-width="0.7" fill="none"/>
<circle cx="279.4" cy="564.5" r="7.2" stroke="#2a2a2a" stroke-width="0.55" fill="none"/>
<circle cx="279.4" cy="564.5" r="4.8" stroke="#2a2a2a" stroke-width="0.55" fill="none"/>
<circle cx="279.4" cy="564.5" r="2.8" stroke="#222" stroke-width="0.75" fill="none"/>
<circle cx="279.4" cy="564.5" r="1" stroke="#000" stroke-width="0.7" fill="none"/>
<path d="M275.76,546.36 A3.7,3.7 0 0 1 283.04,546.36" stroke="#111" stroke-width="1.4" fill="none" />
<circle cx="279.4" cy="547" r="2.9" stroke="#2a2a2a" stroke-width="0.5" fill="none"/>
<circle cx="279.4" cy="547" r="1.6" stroke="#333" stroke-width="0.9" fill="#ddd"/>
<path d="M296.93,570.42 A3.7,3.7 0 0 1 293.29,576.73" stroke="#111" stroke-width="1.4" fill="none" />
<circle cx="294.56" cy="573.25" r="2.9" stroke="#2a2a2a" stroke-width="0.5" fill="none"/>
<circle cx="294.56" cy="573.25" r="1.6" stroke="#333" stroke-width="0.9" fill="#ddd"/>
<path d="M265.51,576.73 A3.7,3.7 0 0 1 261.87,570.42" stroke="#111" stroke-width="1.4" fill="none" />
<circle cx="264.24" cy="573.25" r="2.9" stroke="#2a2a2a" stroke-width="0.5" fill="none"/>
<circle cx="264.24" cy="573.25" r="1.6" stroke="#333" stroke-width="0.9" fill="#ddd"/>
<path d="M329.75,543.22 A3.9,3.9 0 0 1 331.65,543.22 A25,25 0 0 1 349.61,574.32 A3.9,3.9 0 0 1 348.66,575.96 A25,25 0 0 1 312.74,575.96 A3.9,3.9 0 0 1 311.79,574.32 A25,25 0 0 1 329.75,543.22 Z" stroke="#111" stroke-width="0.95" fill="none" />
<circle cx="330.7" cy="564.5" r="14.8" stroke="#2a2a2a" stroke-width="0.7" fill="none"/>
<circle cx="330.7" cy="564.5" r="7.2" stroke="#2a2a2a" stroke-width="0.55" fill="none"/>
<circle cx="330.7" cy="564.5" r="4.8" stroke="#2a2a2a" stroke-width="0.55" fill="none"/>
<circle cx="330.7" cy="564.5" r="2.8" stroke="#222" stroke-width="0.75" fill="none"/>
<circle cx="330.7" cy="564.5" r="1" stroke="#000" stroke-width="0.7" fill="none"/>
<path d="M327.06,546.36 A3.7,3.7 0 0 1 334.34,546.36" stroke="#111" stroke-width="1.4" fill="none" />
<circle cx="330.7" cy="547" r="2.9" stroke="#2a2a2a" stroke-width="0.5" fill="none"/>
<circle cx="330.7" cy="547" r="1.6" stroke="#333" stroke-width="0.9" fill="#ddd"/>
<path d="M348.23,570.42 A3.7,3.7 0 0 1 344.59,576.73" stroke="#111" stroke-width="1.4" fill="none" />
<circle cx="345.86" cy="573.25" r="2.9" stroke="#2a2a2a" stroke-width="0.5" fill="none"/>
<circle cx="345.86" cy="573.25" r="1.6" stroke="#333" stroke-width="0.9" fill="#ddd"/>
<path d="M316.81,576.73 A3.7,3.7 0 0 1 313.17,570.42" stroke="#111" stroke-width="1.4" fill="none" />
<circle cx="315.54" cy="573.25" r="2.9" stroke="#2a2a2a" stroke-width="0.5" fill="none"/>
<circle cx="315.54" cy="573.25" r="1.6" stroke="#333" stroke-width="0.9" fill="#ddd"/>
<path d="M375.85,543.22 A3.9,3.9 0 0 1 377.75,543.22 A25,25 0 0 1 395.71,574.32 A3.9,3.9 0 0 1 394.76,575.96 A25,25 0 0 1 358.84,575.96 A3.9,3.9 0 0 1 357.89,574.32 A25,25 0 0 1 375.85,543.22 Z" stroke="#111" stroke-width="0.95" fill="none" />
<circle cx="376.8" cy="564.5" r="14.8" stroke="#2a2a2a" stroke-width="0.7" fill="none"/>
<circle cx="376.8" cy="564.5" r="7.2" stroke="#2a2a2a" stroke-width="0.55" fill="none"/>
<circle cx="376.8" cy="564.5" r="4.8" stroke="#2a2a2a" stroke-width="0.55" fill="none"/>
<circle cx="376.8" cy="564.5" r="2.8" stroke="#222" stroke-width="0.75" fill="none"/>
<circle cx="376.8" cy="564.5" r="1" stroke="#000" stroke-width="0.7" fill="none"/>
<path d="M373.16,546.36 A3.7,3.7 0 0 1 380.44,546.36" stroke="#111" stroke-width="1.4" fill="none" />
<circle cx="376.8" cy="547" r="2.9" stroke="#2a2a2a" stroke-width="0.5" fill="none"/>
<circle cx="376.8" cy="547" r="1.6" stroke="#333" stroke-width="0.9" fill="#ddd"/>
<path d="M394.33,570.42 A3.7,3.7 0 0 1 390.69,576.73" stroke="#111" stroke-width="1.4" fill="none" />
<circle cx="391.96" cy="573.25" r="2.9" stroke="#2a2a2a" stroke-width="0.5" fill="none"/>
<circle cx="391.96" cy="573.25" r="1.6" stroke="#333" stroke-width="0.9" fill="#ddd"/>
<path d="M362.91,576.73 A3.7,3.7 0 0 1 359.27,570.42" stroke="#111" stroke-width="1.4" fill="none" />
<circle cx="361.64" cy="573.25" r="2.9" stroke="#2a2a2a" stroke-width="0.5" fill="none"/>
<circle cx="361.64" cy="573.25" r="1.6" stroke="#333" stroke-width="0.9" fill="#ddd"/>
<circle cx="291.3" cy="584.5" r="4" stroke="#2a2a2a" stroke-width="0.6" fill="none"/>
<g transform="translate(289.4,586.6) rotate(0)"><g transform="matrix(0.3000,0,0.1050,-0.3000,0,0)" fill="none" stroke="#444" stroke-width="1.65" stroke-linecap="round" stroke-linejoin="round"><path transform="translate(0,0)" d="M0,0 L4.2,14 L7.7,0 M1.5,5 H6.45"/></g></g>
<circle cx="344.3" cy="584.5" r="4" stroke="#2a2a2a" stroke-width="0.6" fill="none"/>
<g transform="translate(342.4,586.6) rotate(0)"><g transform="matrix(0.3000,0,0.1050,-0.3000,0,0)" fill="none" stroke="#444" stroke-width="1.65" stroke-linecap="round" stroke-linejoin="round"><path transform="translate(0,0)" d="M0,0 V14 H3.4 C5.3,14 6.5,12.8 6.5,10.9 C6.5,9 5.3,7.7 3.4,7.7 H0 M3.4,7.7 C5.6,7.7 7,6.3 7,4 C7,1.6 5.6,0 3.4,0 H0"/></g></g>
<circle cx="395.9" cy="584.5" r="4" stroke="#2a2a2a" stroke-width="0.6" fill="none"/>
<g transform="translate(394,586.6) rotate(0)"><g transform="matrix(0.3000,0,0.1050,-0.3000,0,0)" fill="none" stroke="#444" stroke-width="1.65" stroke-linecap="round" stroke-linejoin="round"><path transform="translate(0,0)" d="M6.6,11.2 C6.3,12.9 5.1,14 3.4,14 C1.4,14 0,12.6 0,10.4 V3.6 C0,1.4 1.4,0 3.4,0 C5.1,0 6.3,1.1 6.6,2.8"/></g></g>
<circle cx="291.8" cy="534.8" r="11.5" stroke="#2a2a2a" stroke-width="0.7" fill="none"/>
<circle cx="291.8" cy="534.8" r="9.2" stroke="#2a2a2a" stroke-width="0.5" fill="none"/>
<circle cx="291.8" cy="534.8" r="7.4" stroke="#2a2a2a" stroke-width="0.6" fill="#d4d4d4"/>
<path d="M301.97,536.96 A10.4,10.4 0 0 1 298.76,542.53" stroke="#222" stroke-width="1.1" fill="none" />
<path d="M295.01,544.69 A10.4,10.4 0 0 1 288.59,544.69" stroke="#222" stroke-width="1.1" fill="none" />
<path d="M284.84,542.53 A10.4,10.4 0 0 1 281.63,536.96" stroke="#222" stroke-width="1.1" fill="none" />
<path d="M281.63,532.64 A10.4,10.4 0 0 1 284.84,527.07" stroke="#222" stroke-width="1.1" fill="none" />
<path d="M288.59,524.91 A10.4,10.4 0 0 1 295.01,524.91" stroke="#222" stroke-width="1.1" fill="none" />
<path d="M298.76,527.07 A10.4,10.4 0 0 1 301.97,532.64" stroke="#222" stroke-width="1.1" fill="none" />
<line x1="280.3" y1="534.8" x2="303.3" y2="534.8" stroke="#111" stroke-width="0.6"/>
<line x1="291.8" y1="522.3" x2="291.8" y2="547.3" stroke="#111" stroke-width="0.6"/>
<line x1="289.2" y1="527.8" x2="289.2" y2="541.8" stroke="#444" stroke-width="0.5"/>
<line x1="294.4" y1="527.8" x2="294.4" y2="541.8" stroke="#444" stroke-width="0.5"/>
<line x1="288.6" y1="528.2" x2="295" y2="528.2" stroke="#111" stroke-width="1.2"/>
<circle cx="291.8" cy="534.8" r="1.4" stroke="none" stroke-width="0" fill="#000"/>
<rect x="240.4" y="553.4" width="17.2" height="2.9" stroke="#2a2a2a" stroke-width="0.6" fill="none" rx="1.2"/>
<line x1="249" y1="552.6" x2="249" y2="557.2" stroke="#2a2a2a" stroke-width="0.5"/>
<path d="M435.6,500.3 A3.2,3.2 0 0 1 435.6,494.5" stroke="#2a2a2a" stroke-width="0.8" fill="none" />
<line x1="428.6" y1="497.4" x2="439.8" y2="497.4" stroke="#2a2a2a" stroke-width="0.5"/>
<line x1="434.2" y1="492.6" x2="434.2" y2="502.2" stroke="#2a2a2a" stroke-width="0.5"/>
<path d="M435.6,573.7 A3.2,3.2 0 0 1 435.6,567.9" stroke="#2a2a2a" stroke-width="0.8" fill="none" />
<line x1="428.6" y1="570.8" x2="439.8" y2="570.8" stroke="#2a2a2a" stroke-width="0.5"/>
<line x1="434.2" y1="566" x2="434.2" y2="575.6" stroke="#2a2a2a" stroke-width="0.5"/>
<rect x="428.5" y="510.6" width="8.3" height="2.8" stroke="#2a2a2a" stroke-width="0.6" fill="none" rx="1.2"/>
<path d="M466.49,522.89 A2.2,2.2 0 0 1 468.31,522.89 A16,16 0 0 1 477.64,539.07 A2.2,2.2 0 0 1 476.74,540.64 A16,16 0 0 1 458.06,540.64 A2.2,2.2 0 0 1 457.16,539.07 A16,16 0 0 1 466.49,522.89 Z" stroke="#2a2a2a" stroke-width="0.8" fill="none" />
<circle cx="467.4" cy="534.2" r="6.4" stroke="#111" stroke-width="1.2" fill="none"/>
<circle cx="467.4" cy="534.2" r="4.9" stroke="#2a2a2a" stroke-width="0.6" fill="none"/>
<circle cx="467.4" cy="525.2" r="0.9" stroke="#2a2a2a" stroke-width="0.5" fill="none"/>
<circle cx="459.4" cy="539" r="0.9" stroke="#2a2a2a" stroke-width="0.5" fill="none"/>
<circle cx="475.4" cy="539" r="0.9" stroke="#2a2a2a" stroke-width="0.5" fill="none"/>
<circle cx="467.4" cy="558.4" r="4.5" stroke="#2a2a2a" stroke-width="0.75" fill="none"/>
<line x1="461.8" y1="558.4" x2="473.2" y2="558.4" stroke="#2a2a2a" stroke-width="0.5"/>
<line x1="198" y1="442.5" x2="236" y2="442.5" stroke="#2a2a2a" stroke-width="0.7"/>
<line x1="198" y1="625.3" x2="236" y2="625.3" stroke="#2a2a2a" stroke-width="0.7"/>
<line x1="200.6" y1="442.5" x2="200.6" y2="625.3" stroke="#2a2a2a" stroke-width="0.7"/>
<path d="M200.6,442.5 L202.6,454.7 L198.6,454.7 Z" stroke="none" stroke-width="0" fill="#000" />
<path d="M200.6,625.3 L198.6,613.1 L202.6,613.1 Z" stroke="none" stroke-width="0" fill="#000" />
<g transform="translate(195.9,533.4) rotate(-90)"><g transform="matrix(0.8357,0,0.2925,-0.8357,-10.2,0)" fill="none" stroke="#000" stroke-width="1.25" stroke-linecap="round" stroke-linejoin="round"><path transform="translate(0,0)" d="M0,14 H6.4 L1.8,0"/><path transform="translate(9,0)" d="M0.3,12 C1,13.5 2,14 3.2,14 C5.1,14 6.4,12.8 6.4,11 C6.4,9 5.1,7.6 2.8,7.6 C5.2,7.6 6.4,6 6.4,4 V3.3 C6.4,1.3 5.1,0 3.2,0 C1.4,0 0.3,1 0,2.6"/><path transform="translate(18,0)" d="M0,3.2 V10.8 A3.2,3.2 0 0 0 6.4,10.8 V3.2 A3.2,3.2 0 0 0 0,3.2 Z"/></g></g>
<line x1="507.6" y1="457.5" x2="507.6" y2="664.8" stroke="#2a2a2a" stroke-width="0.7"/>
<line x1="225.6" y1="662.9" x2="507.6" y2="662.9" stroke="#2a2a2a" stroke-width="0.7"/>
<path d="M225.6,662.9 L237.8,660.9 L237.8,664.9 Z" stroke="none" stroke-width="0" fill="#000" />
<path d="M507.6,662.9 L495.4,664.9 L495.4,660.9 Z" stroke="none" stroke-width="0" fill="#000" />
<g transform="translate(364,657.8) rotate(0)"><g transform="matrix(0.8357,0,0.2925,-0.8357,-11.28,0)" fill="none" stroke="#000" stroke-width="1.25" stroke-linecap="round" stroke-linejoin="round"><path transform="translate(0,0)" d="M0,10.2 L3.2,14 V0"/><path transform="translate(5.8,0)" d="M0,10.2 L3.2,14 V0"/><path transform="translate(11.6,0)" d="M4.9,13.9 C2.6,12.6 0.9,10 0.3,7.6 L0,3.2 C0,1.2 1.3,0 3.2,0 C5.1,0 6.4,1.2 6.4,3.2 V4.8 C6.4,6.6 5.3,7.7 3.8,7.7 H0.5"/><path transform="translate(20.6,0)" d="M0,3.2 V10.8 A3.2,3.2 0 0 0 6.4,10.8 V3.2 A3.2,3.2 0 0 0 0,3.2 Z"/></g></g>
</g>
</svg>
</body></html>
